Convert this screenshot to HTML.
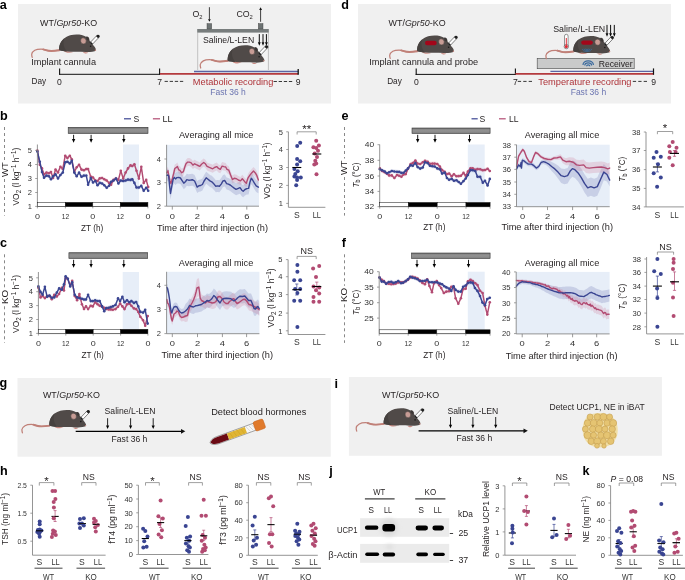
<!DOCTYPE html>
<html><head><meta charset="utf-8"><title>Figure</title>
<style>
html,body{margin:0;padding:0;background:#fff;}
body{width:685px;height:580px;overflow:hidden;}
svg{display:block;will-change:transform;}
text{font-family:"Liberation Sans", sans-serif;}
</style></head><body>
<svg width="685" height="580" viewBox="0 0 685 580">
<defs><g id="mouse">
<path d="M29.6,25.6 C25,26.3 21.5,26.5 19.2,26.2 C16,25.8 14,24.4 11.3,24.4 C8.5,24.4 6.5,24.8 5,25.7 C3,26.9 1.9,28.2 1.9,29.6 C1.9,31 2.1,32 2.4,32.8" fill="none" stroke="#c08078" stroke-width="1.25" stroke-linecap="round"/><path d="M29.6,25.6 C25,26.3 21.5,26.5 19.2,26.2 C16.5,25.9 15,25.2 13.5,24.7" fill="none" stroke="#c08078" stroke-width="1.9" stroke-linecap="round"/>
<path d="M34,26.2 C35.5,28.4 40,28.8 43.5,27.4 Z M53.2,27.4 C54.2,29.2 57.3,29.4 58.5,27.8 Z" fill="#c98a82"/>
<path d="M29.4,25.2 C29,21 31,16.5 34.5,13.6 C38,11 42.5,10 46.8,10 C50.5,10 53.5,10.6 56.2,12.2 C56.8,11.6 58.6,12 59.3,13.6 C59.8,14.8 59.6,15.6 59.6,15.6 C61.2,17.6 63.3,20.2 64.6,22 C65.6,23.4 66.3,24.5 66,25.6 C65.6,26.6 64.3,27 62.5,27.1 C60.5,27.4 58.5,27.6 56,27.4 C52,27.2 48,27 44,27.1 C40,27.1 36,26.8 32.5,26.4 C31,26.1 29.8,25.8 29.4,25.2 Z" fill="#504a48"/>
<path d="M29.4,25.2 C29,21 31,16.5 34.5,13.6 C33,18 33.5,22.5 37,26.8 C34,26.6 31,26.2 29.4,25.2 Z" fill="#46413f"/>
<path d="M56.4,12.6 C57.2,12 58.6,12.4 59.1,13.8 C59.4,14.8 59.2,15.8 58.6,16.2 L56.8,14.8 Z" fill="#3c3736"/>
<ellipse cx="53.6" cy="16.3" rx="2.8" ry="3.1" fill="#c79c95" stroke="#433e3d" stroke-width="0.45" transform="rotate(-12 53.6 16.3)"/>
<circle cx="60.8" cy="21.6" r="0.8" fill="#1a1a1a"/>
<circle cx="65.6" cy="25.6" r="0.7" fill="#c98a82"/>
<path d="M60.1,18.2 L67.5,10.4 L69.5,12.4 L62.1,20.2 Z" fill="#fdfdfd" stroke="#1e1e1e" stroke-width="0.55" stroke-linejoin="round"/>
<path d="M66.3,11.7 L67.5,10.4 C68.1,9.8 69.2,10.2 69.7,10.8 C70.1,11.4 70,12 69.5,12.4 L68.3,13.6 Z" fill="#1e1e1e"/>
<path d="M60.1,18.2 L61.1,17.1 L63.1,19.1 L62.1,20.2 Z" fill="#1e1e1e"/>
</g><linearGradient id="gbar" x1="0" y1="0" x2="0" y2="1"><stop offset="0" stop-color="#6c6c6c"/><stop offset="0.35" stop-color="#929292"/><stop offset="0.75" stop-color="#8c8c8c"/><stop offset="1" stop-color="#747474"/></linearGradient>
<filter id="soft" x="-20%" y="-50%" width="140%" height="200%"><feGaussianBlur stdDeviation="0.35"/></filter><filter id="soft2" x="-50%" y="-50%" width="200%" height="200%"><feGaussianBlur stdDeviation="2"/></filter></defs>
<rect width="685" height="580" fill="#fff"/>
<g fill="#231f20">
<rect x="18" y="4" width="313" height="99.5" fill="#f0f0f0"/>
<text x="40.1" y="26" font-size="8.9" fill="#231f20" textLength="57" lengthAdjust="spacingAndGlyphs">WT/<tspan font-style="italic">Gpr50</tspan>-KO</text>
<use href="#mouse" x="29.8" y="24.6"/>
<text x="31.2" y="65.4" font-size="9.1" textLength="64.8" lengthAdjust="spacingAndGlyphs">Implant cannula</text>
<line x1="59.1" y1="74.3" x2="160" y2="74.3" stroke="#111" stroke-width="1"/>
<line x1="59.6" y1="68.4" x2="59.6" y2="74.8" stroke="#111" stroke-width="1.1"/>
<line x1="159.6" y1="68.4" x2="159.6" y2="74.8" stroke="#111" stroke-width="1.1"/>
<text x="31.5" y="84.4" font-size="8.6" textLength="14.6" lengthAdjust="spacingAndGlyphs">Day</text>
<text x="57.1" y="84.6" font-size="8.6">0</text>
<text x="157.3" y="84.6" font-size="8.6">7</text>
<line x1="164.6" y1="81.4" x2="183.2" y2="81.4" stroke="#222" stroke-width="0.9" stroke-dasharray="3.3,1.8"/>
<line x1="160" y1="73.9" x2="298.2" y2="73.9" stroke="#b43a3e" stroke-width="1.7"/>
<line x1="194" y1="71.5" x2="298.2" y2="71.5" stroke="#5a64a2" stroke-width="1.3"/>
<line x1="298.2" y1="68.9" x2="298.2" y2="74.8" stroke="#111" stroke-width="1.3"/>
<text x="192.8" y="84.85" font-size="9.1" fill="#ae3339" textLength="80.6" lengthAdjust="spacingAndGlyphs">Metabolic recording</text>
<line x1="273.6" y1="81.5" x2="292.2" y2="81.5" stroke="#222" stroke-width="0.9" stroke-dasharray="3.3,1.8"/>
<text x="295.8" y="84.6" font-size="8.6">9</text>
<text x="210.3" y="94.7" font-size="8.6" fill="#6b74b0" textLength="35.5" lengthAdjust="spacingAndGlyphs">Fast 36 h</text>
<rect x="197.5" y="32.4" width="71" height="37.4" fill="#f3f3f3"/>
<line x1="197.7" y1="32.4" x2="197.7" y2="70" stroke="#a0a0a0" stroke-width="0.6"/>
<line x1="268.4" y1="32.4" x2="268.4" y2="70" stroke="#a0a0a0" stroke-width="0.6"/>
<rect x="197.2" y="29" width="71.6" height="3.6" fill="#787d7d"/>
<rect x="207" y="23.6" width="4.7" height="5.4" fill="#6d7373" stroke="#3a3a3a" stroke-width="0.4"/>
<rect x="258.3" y="23.6" width="4.7" height="5.4" fill="#6d7373" stroke="#3a3a3a" stroke-width="0.4"/>
<line x1="209.4" y1="7.2" x2="209.4" y2="19.5" stroke="#111" stroke-width="0.8"/>
<polygon points="208,19.2 210.8,19.2 209.4,21.8" fill="#111"/>
<line x1="260.6" y1="21.8" x2="260.6" y2="9.6" stroke="#111" stroke-width="0.8"/>
<polygon points="259.2,9.9 262,9.9 260.6,7.3" fill="#111"/>
<text x="192.4" y="17.2" font-size="8.8" fill="#231f20">O<tspan font-size="5.8" dy="1.8">2</tspan></text>
<text x="236.4" y="17.2" font-size="8.8" fill="#231f20">CO<tspan font-size="5.8" dy="1.8">2</tspan></text>
<text x="203" y="42.6" font-size="8.7" textLength="51.2" lengthAdjust="spacingAndGlyphs">Saline/L-LEN</text>
<line x1="259.3" y1="34.1" x2="259.3" y2="42.5" stroke="#000" stroke-width="0.95"/>
<polygon points="257.9,42.2 260.7,42.2 259.3,45.8" fill="#000"/>
<line x1="263" y1="34.1" x2="263" y2="42.5" stroke="#000" stroke-width="0.95"/>
<polygon points="261.6,42.2 264.4,42.2 263,45.8" fill="#000"/>
<line x1="266.4" y1="34.1" x2="266.4" y2="42.5" stroke="#000" stroke-width="0.95"/>
<polygon points="265,42.2 267.8,42.2 266.4,45.8" fill="#000"/>
<use href="#mouse" x="198.3" y="35.2"/>
<rect x="358" y="4" width="313" height="99.5" fill="#f0f0f0"/>
<text x="388.6" y="26" font-size="8.9" fill="#231f20" textLength="57" lengthAdjust="spacingAndGlyphs">WT/<tspan font-style="italic">Gpr50</tspan>-KO</text>
<use href="#mouse" x="387.8" y="25.6"/>
<rect x="425" y="40.8" width="11.7" height="4.5" fill="#a3061a" rx="2.2"/>
<text x="369.2" y="65.4" font-size="9.1" textLength="109" lengthAdjust="spacingAndGlyphs">Implant cannula and probe</text>
<line x1="415.7" y1="74.4" x2="515.4" y2="74.4" stroke="#111" stroke-width="1"/>
<line x1="416.2" y1="68.6" x2="416.2" y2="74.9" stroke="#111" stroke-width="1.1"/>
<line x1="515.4" y1="68.6" x2="515.4" y2="74.9" stroke="#111" stroke-width="1.1"/>
<text x="387.2" y="84.4" font-size="8.6" textLength="14.6" lengthAdjust="spacingAndGlyphs">Day</text>
<text x="414" y="84.6" font-size="8.6">0</text>
<text x="513" y="84.6" font-size="8.6">7</text>
<line x1="517.8" y1="81.4" x2="532" y2="81.4" stroke="#222" stroke-width="0.9" stroke-dasharray="3.3,2.15"/>
<rect x="537.2" y="58.3" width="97" height="10.4" fill="#c9caca" stroke="#4a4a4a" stroke-width="0.6"/>
<text x="598.7" y="66.5" font-size="8.8" textLength="34" lengthAdjust="spacingAndGlyphs">Receiver</text>
<path d="M586.6,66.24 A1.6,1.28 0 0 1 589.8,66.24" fill="none" stroke="#3a6a9e" stroke-width="1.2"/>
<path d="M584.8,65.61 A3.4,2.72 0 0 1 591.6,65.61" fill="none" stroke="#3a6a9e" stroke-width="1.2"/>
<path d="M583,64.98 A5.2,4.16 0 0 1 593.4,64.98" fill="none" stroke="#3a6a9e" stroke-width="1.2"/>
<use href="#mouse" x="544" y="25.9"/>
<rect x="581.2" y="40.4" width="11.6" height="4.4" fill="#a3061a" rx="2.2"/>
<path d="M585.5,48.65 A1.5,0.83 0 0 0 588.5,48.65" fill="none" stroke="#3a6c9c" stroke-width="0.8"/>
<path d="M584,48.8 A3,1.65 0 0 0 590,48.8" fill="none" stroke="#3a6c9c" stroke-width="0.8"/>
<path d="M582.5,48.95 A4.5,2.48 0 0 0 591.5,48.95" fill="none" stroke="#3a6c9c" stroke-width="0.8"/>
<rect x="564.5" y="34.3" width="3.6" height="13.5" fill="#fff" stroke="#333" stroke-width="0.5" rx="1.8"/>
<circle cx="566.3" cy="46.6" r="2.2" fill="#fff" stroke="#333" stroke-width="0.5"/>
<circle cx="566.3" cy="46.6" r="1.6" fill="#e0303a"/>
<rect x="565.8" y="38" width="1" height="8" fill="#e0303a"/>
<text x="553.2" y="32.3" font-size="8.7" textLength="52" lengthAdjust="spacingAndGlyphs">Saline/L-LEN</text>
<line x1="607" y1="24.9" x2="607" y2="33.5" stroke="#000" stroke-width="0.95"/>
<polygon points="605.6,33.2 608.4,33.2 607,36.7" fill="#000"/>
<line x1="610.6" y1="24.9" x2="610.6" y2="33.5" stroke="#000" stroke-width="0.95"/>
<polygon points="609.2,33.2 612,33.2 610.6,36.7" fill="#000"/>
<line x1="614.3" y1="24.9" x2="614.3" y2="33.5" stroke="#000" stroke-width="0.95"/>
<polygon points="612.9,33.2 615.7,33.2 614.3,36.7" fill="#000"/>
<line x1="515.4" y1="73.85" x2="653.5" y2="73.85" stroke="#b43a3e" stroke-width="1.7"/>
<line x1="550.4" y1="71.45" x2="653.5" y2="71.45" stroke="#5a64a2" stroke-width="1.3"/>
<line x1="653.5" y1="68.4" x2="653.5" y2="74.8" stroke="#111" stroke-width="1.2"/>
<text x="538.3" y="84.9" font-size="9.1" fill="#ae3339" textLength="93.2" lengthAdjust="spacingAndGlyphs">Temperature recording</text>
<line x1="632.8" y1="81.4" x2="647" y2="81.4" stroke="#222" stroke-width="0.9" stroke-dasharray="3.3,2.15"/>
<text x="651.2" y="84.6" font-size="8.6">9</text>
<text x="570.7" y="94.7" font-size="8.6" fill="#6b74b0" textLength="35.5" lengthAdjust="spacingAndGlyphs">Fast 36 h</text>
<rect x="123" y="144.5" width="16" height="57.9" fill="#e7eef8"/>
<rect x="68.2" y="127.3" width="79.8" height="6.2" fill="url(#gbar)" stroke="#3a3a3a" stroke-width="0.6"/>
<line x1="73.6" y1="134.8" x2="73.6" y2="139.3" stroke="#000" stroke-width="0.9"/>
<polygon points="71.9,139 75.3,139 73.6,142.8" fill="#000"/>
<line x1="91.1" y1="134.8" x2="91.1" y2="139.3" stroke="#000" stroke-width="0.9"/>
<polygon points="89.4,139 92.8,139 91.1,142.8" fill="#000"/>
<line x1="123.8" y1="134.8" x2="123.8" y2="139.3" stroke="#000" stroke-width="0.9"/>
<polygon points="122.1,139 125.5,139 123.8,142.8" fill="#000"/>
<polygon points="37.4,149.5 39.8,159.7 42,170 44,175.7 46.5,173.6 48.9,174.2 51,177.3 53.1,174.2 55.5,172.4 58,176.4 60.4,173 62.8,170.6 65.2,160.3 67.4,159.7 69.8,161.5 71.8,158.8 74.3,170.6 76.7,174.2 79.1,170.6 81.5,174.8 83.9,173.6 86.3,173.6 88.1,182.7 90.8,176 93,180.5 95.4,179 97.5,183.3 99.7,180.9 102.1,181.5 104.3,183.3 106.7,185.7 109.1,183.7 111.1,179.7 113.5,178.5 116,176.6 118.4,181.5 120.8,178.5 123.2,179 125.6,178.5 128,177.6 130.5,177.9 132.3,177.3 134.4,180.9 136.5,185.5 138.9,185.5 141.3,183.9 143.7,188.7 146.2,185.7 148.2,188.7 148.2,192.7 146.2,189.7 143.7,192.7 141.3,187.9 138.9,189.5 136.5,189.5 134.4,184.9 132.3,181.3 130.5,181.9 128,181.6 125.6,182.5 123.2,183 120.8,182.5 118.4,185.5 116,180.6 113.5,182.5 111.1,183.7 109.1,187.7 106.7,189.7 104.3,187.3 102.1,185.5 99.7,184.9 97.5,187.3 95.4,183 93,184.5 90.8,180 88.1,186.7 86.3,177.6 83.9,177.6 81.5,178.8 79.1,174.6 76.7,178.2 74.3,174.6 71.8,162.8 69.8,165.5 67.4,163.7 65.2,164.3 62.8,174.6 60.4,177 58,180.4 55.5,176.4 53.1,178.2 51,181.3 48.9,178.2 46.5,177.6 44,179.7 42,174 39.8,163.7 37.4,153.5" fill="#3a4592" fill-opacity="0.14"/>
<polygon points="37.4,148.6 39.8,162.8 42,166.4 44,172.4 46.5,170.6 48.9,171.2 51,170 53.1,176 55.5,167.6 58,170.4 60.4,164.8 62.8,167 65.2,153.7 67.4,156.1 69.8,153.7 71.8,157.3 74.3,170 76.7,165.2 79.1,162.8 81.5,167.6 83.9,168.2 86.3,167 88.1,167 90.8,174.8 93,175.5 95.4,178.5 97.5,179 99.7,176.4 102.1,176 104.3,177.3 106.7,178.5 109.1,180.9 111.1,182.7 113.5,177.9 116,176.6 118.4,177.9 120.8,168.8 123.2,176.6 125.6,170.6 128,166.4 130.5,163.4 132.3,164 134.4,162.2 136.5,168.8 138.9,176.6 141.3,164.8 143.7,180.9 146.2,177.9 148.2,185.1 148.2,189.1 146.2,181.9 143.7,184.9 141.3,168.8 138.9,180.6 136.5,172.8 134.4,166.2 132.3,168 130.5,167.4 128,170.4 125.6,174.6 123.2,180.6 120.8,172.8 118.4,181.9 116,180.6 113.5,181.9 111.1,186.7 109.1,184.9 106.7,182.5 104.3,181.3 102.1,180 99.7,180.4 97.5,183 95.4,182.5 93,179.5 90.8,178.8 88.1,171 86.3,171 83.9,172.2 81.5,171.6 79.1,166.8 76.7,169.2 74.3,174 71.8,161.3 69.8,157.7 67.4,160.1 65.2,157.7 62.8,171 60.4,168.8 58,174.4 55.5,171.6 53.1,180 51,174 48.9,175.2 46.5,174.6 44,176.4 42,170.4 39.8,166.8 37.4,152.6" fill="#b24b72" fill-opacity="0.14"/>
<polyline points="37.4,150.6 39.8,164.8 42,168.4 44,174.4 46.5,172.6 48.9,173.2 51,172 53.1,178 55.5,169.6 58,172.4 60.4,166.8 62.8,169 65.2,155.7 67.4,158.1 69.8,155.7 71.8,159.3 74.3,172 76.7,167.2 79.1,164.8 81.5,169.6 83.9,170.2 86.3,169 88.1,169 90.8,176.8 93,177.5 95.4,180.5 97.5,181 99.7,178.4 102.1,178 104.3,179.3 106.7,180.5 109.1,182.9 111.1,184.7 113.5,179.9 116,178.6 118.4,179.9 120.8,170.8 123.2,178.6 125.6,172.6 128,168.4 130.5,165.4 132.3,166 134.4,164.2 136.5,170.8 138.9,178.6 141.3,166.8 143.7,182.9 146.2,179.9 148.2,187.1" fill="none" stroke="#b24b72" stroke-width="1.45" stroke-linejoin="round" stroke-linecap="round"/>
<circle cx="37.4" cy="150.6" r="1.3" fill="#b24b72"/>
<circle cx="39.8" cy="164.8" r="1.3" fill="#b24b72"/>
<circle cx="42" cy="168.4" r="1.3" fill="#b24b72"/>
<circle cx="44" cy="174.4" r="1.3" fill="#b24b72"/>
<circle cx="46.5" cy="172.6" r="1.3" fill="#b24b72"/>
<circle cx="48.9" cy="173.2" r="1.3" fill="#b24b72"/>
<circle cx="51" cy="172" r="1.3" fill="#b24b72"/>
<circle cx="53.1" cy="178" r="1.3" fill="#b24b72"/>
<circle cx="55.5" cy="169.6" r="1.3" fill="#b24b72"/>
<circle cx="58" cy="172.4" r="1.3" fill="#b24b72"/>
<circle cx="60.4" cy="166.8" r="1.3" fill="#b24b72"/>
<circle cx="62.8" cy="169" r="1.3" fill="#b24b72"/>
<circle cx="65.2" cy="155.7" r="1.3" fill="#b24b72"/>
<circle cx="67.4" cy="158.1" r="1.3" fill="#b24b72"/>
<circle cx="69.8" cy="155.7" r="1.3" fill="#b24b72"/>
<circle cx="71.8" cy="159.3" r="1.3" fill="#b24b72"/>
<circle cx="74.3" cy="172" r="1.3" fill="#b24b72"/>
<circle cx="76.7" cy="167.2" r="1.3" fill="#b24b72"/>
<circle cx="79.1" cy="164.8" r="1.3" fill="#b24b72"/>
<circle cx="81.5" cy="169.6" r="1.3" fill="#b24b72"/>
<circle cx="83.9" cy="170.2" r="1.3" fill="#b24b72"/>
<circle cx="86.3" cy="169" r="1.3" fill="#b24b72"/>
<circle cx="88.1" cy="169" r="1.3" fill="#b24b72"/>
<circle cx="90.8" cy="176.8" r="1.3" fill="#b24b72"/>
<circle cx="93" cy="177.5" r="1.3" fill="#b24b72"/>
<circle cx="95.4" cy="180.5" r="1.3" fill="#b24b72"/>
<circle cx="97.5" cy="181" r="1.3" fill="#b24b72"/>
<circle cx="99.7" cy="178.4" r="1.3" fill="#b24b72"/>
<circle cx="102.1" cy="178" r="1.3" fill="#b24b72"/>
<circle cx="104.3" cy="179.3" r="1.3" fill="#b24b72"/>
<circle cx="106.7" cy="180.5" r="1.3" fill="#b24b72"/>
<circle cx="109.1" cy="182.9" r="1.3" fill="#b24b72"/>
<circle cx="111.1" cy="184.7" r="1.3" fill="#b24b72"/>
<circle cx="113.5" cy="179.9" r="1.3" fill="#b24b72"/>
<circle cx="116" cy="178.6" r="1.3" fill="#b24b72"/>
<circle cx="118.4" cy="179.9" r="1.3" fill="#b24b72"/>
<circle cx="120.8" cy="170.8" r="1.3" fill="#b24b72"/>
<circle cx="123.2" cy="178.6" r="1.3" fill="#b24b72"/>
<circle cx="125.6" cy="172.6" r="1.3" fill="#b24b72"/>
<circle cx="128" cy="168.4" r="1.3" fill="#b24b72"/>
<circle cx="130.5" cy="165.4" r="1.3" fill="#b24b72"/>
<circle cx="132.3" cy="166" r="1.3" fill="#b24b72"/>
<circle cx="134.4" cy="164.2" r="1.3" fill="#b24b72"/>
<circle cx="136.5" cy="170.8" r="1.3" fill="#b24b72"/>
<circle cx="138.9" cy="178.6" r="1.3" fill="#b24b72"/>
<circle cx="141.3" cy="166.8" r="1.3" fill="#b24b72"/>
<circle cx="143.7" cy="182.9" r="1.3" fill="#b24b72"/>
<circle cx="146.2" cy="179.9" r="1.3" fill="#b24b72"/>
<circle cx="148.2" cy="187.1" r="1.3" fill="#b24b72"/>
<polyline points="37.4,151.5 39.8,161.7 42,172 44,177.7 46.5,175.6 48.9,176.2 51,179.3 53.1,176.2 55.5,174.4 58,178.4 60.4,175 62.8,172.6 65.2,162.3 67.4,161.7 69.8,163.5 71.8,160.8 74.3,172.6 76.7,176.2 79.1,172.6 81.5,176.8 83.9,175.6 86.3,175.6 88.1,184.7 90.8,178 93,182.5 95.4,181 97.5,185.3 99.7,182.9 102.1,183.5 104.3,185.3 106.7,187.7 109.1,185.7 111.1,181.7 113.5,180.5 116,178.6 118.4,183.5 120.8,180.5 123.2,181 125.6,180.5 128,179.6 130.5,179.9 132.3,179.3 134.4,182.9 136.5,187.5 138.9,187.5 141.3,185.9 143.7,190.7 146.2,187.7 148.2,190.7" fill="none" stroke="#3a4592" stroke-width="1.45" stroke-linejoin="round" stroke-linecap="round"/>
<circle cx="37.4" cy="151.5" r="1.3" fill="#3a4592"/>
<circle cx="39.8" cy="161.7" r="1.3" fill="#3a4592"/>
<circle cx="42" cy="172" r="1.3" fill="#3a4592"/>
<circle cx="44" cy="177.7" r="1.3" fill="#3a4592"/>
<circle cx="46.5" cy="175.6" r="1.3" fill="#3a4592"/>
<circle cx="48.9" cy="176.2" r="1.3" fill="#3a4592"/>
<circle cx="51" cy="179.3" r="1.3" fill="#3a4592"/>
<circle cx="53.1" cy="176.2" r="1.3" fill="#3a4592"/>
<circle cx="55.5" cy="174.4" r="1.3" fill="#3a4592"/>
<circle cx="58" cy="178.4" r="1.3" fill="#3a4592"/>
<circle cx="60.4" cy="175" r="1.3" fill="#3a4592"/>
<circle cx="62.8" cy="172.6" r="1.3" fill="#3a4592"/>
<circle cx="65.2" cy="162.3" r="1.3" fill="#3a4592"/>
<circle cx="67.4" cy="161.7" r="1.3" fill="#3a4592"/>
<circle cx="69.8" cy="163.5" r="1.3" fill="#3a4592"/>
<circle cx="71.8" cy="160.8" r="1.3" fill="#3a4592"/>
<circle cx="74.3" cy="172.6" r="1.3" fill="#3a4592"/>
<circle cx="76.7" cy="176.2" r="1.3" fill="#3a4592"/>
<circle cx="79.1" cy="172.6" r="1.3" fill="#3a4592"/>
<circle cx="81.5" cy="176.8" r="1.3" fill="#3a4592"/>
<circle cx="83.9" cy="175.6" r="1.3" fill="#3a4592"/>
<circle cx="86.3" cy="175.6" r="1.3" fill="#3a4592"/>
<circle cx="88.1" cy="184.7" r="1.3" fill="#3a4592"/>
<circle cx="90.8" cy="178" r="1.3" fill="#3a4592"/>
<circle cx="93" cy="182.5" r="1.3" fill="#3a4592"/>
<circle cx="95.4" cy="181" r="1.3" fill="#3a4592"/>
<circle cx="97.5" cy="185.3" r="1.3" fill="#3a4592"/>
<circle cx="99.7" cy="182.9" r="1.3" fill="#3a4592"/>
<circle cx="102.1" cy="183.5" r="1.3" fill="#3a4592"/>
<circle cx="104.3" cy="185.3" r="1.3" fill="#3a4592"/>
<circle cx="106.7" cy="187.7" r="1.3" fill="#3a4592"/>
<circle cx="109.1" cy="185.7" r="1.3" fill="#3a4592"/>
<circle cx="111.1" cy="181.7" r="1.3" fill="#3a4592"/>
<circle cx="113.5" cy="180.5" r="1.3" fill="#3a4592"/>
<circle cx="116" cy="178.6" r="1.3" fill="#3a4592"/>
<circle cx="118.4" cy="183.5" r="1.3" fill="#3a4592"/>
<circle cx="120.8" cy="180.5" r="1.3" fill="#3a4592"/>
<circle cx="123.2" cy="181" r="1.3" fill="#3a4592"/>
<circle cx="125.6" cy="180.5" r="1.3" fill="#3a4592"/>
<circle cx="128" cy="179.6" r="1.3" fill="#3a4592"/>
<circle cx="130.5" cy="179.9" r="1.3" fill="#3a4592"/>
<circle cx="132.3" cy="179.3" r="1.3" fill="#3a4592"/>
<circle cx="134.4" cy="182.9" r="1.3" fill="#3a4592"/>
<circle cx="136.5" cy="187.5" r="1.3" fill="#3a4592"/>
<circle cx="138.9" cy="187.5" r="1.3" fill="#3a4592"/>
<circle cx="141.3" cy="185.9" r="1.3" fill="#3a4592"/>
<circle cx="143.7" cy="190.7" r="1.3" fill="#3a4592"/>
<circle cx="146.2" cy="187.7" r="1.3" fill="#3a4592"/>
<circle cx="148.2" cy="190.7" r="1.3" fill="#3a4592"/>
<line x1="37.4" y1="144.5" x2="37.4" y2="206.4" stroke="#7a7a7a" stroke-width="0.8"/>
<line x1="37.4" y1="206.4" x2="147.9" y2="206.4" stroke="#7a7a7a" stroke-width="0.8"/>
<line x1="37.4" y1="206.4" x2="37.4" y2="208.4" stroke="#7a7a7a" stroke-width="0.7"/>
<line x1="65.4" y1="206.4" x2="65.4" y2="208.4" stroke="#7a7a7a" stroke-width="0.7"/>
<line x1="92.8" y1="206.4" x2="92.8" y2="208.4" stroke="#7a7a7a" stroke-width="0.7"/>
<line x1="120.3" y1="206.4" x2="120.3" y2="208.4" stroke="#7a7a7a" stroke-width="0.7"/>
<line x1="147.9" y1="206.4" x2="147.9" y2="208.4" stroke="#7a7a7a" stroke-width="0.7"/>
<rect x="37.4" y="202.4" width="28" height="4" fill="#fff" stroke="#111" stroke-width="0.5"/>
<rect x="65.4" y="202.4" width="27.4" height="4" fill="#000" stroke="#111" stroke-width="0.5"/>
<rect x="92.8" y="202.4" width="27.5" height="4" fill="#fff" stroke="#111" stroke-width="0.5"/>
<rect x="120.3" y="202.4" width="27.6" height="4" fill="#000" stroke="#111" stroke-width="0.5"/>
<line x1="35.2" y1="150.4" x2="37.4" y2="150.4" stroke="#7a7a7a" stroke-width="0.7"/>
<text x="31.8" y="153.1" font-size="7.5" text-anchor="end" fill="#333">5</text>
<line x1="35.2" y1="164.5" x2="37.4" y2="164.5" stroke="#7a7a7a" stroke-width="0.7"/>
<text x="31.8" y="167.2" font-size="7.5" text-anchor="end" fill="#333">4</text>
<line x1="35.2" y1="178.5" x2="37.4" y2="178.5" stroke="#7a7a7a" stroke-width="0.7"/>
<text x="31.8" y="181.2" font-size="7.5" text-anchor="end" fill="#333">3</text>
<line x1="35.2" y1="192.5" x2="37.4" y2="192.5" stroke="#7a7a7a" stroke-width="0.7"/>
<text x="31.8" y="195.2" font-size="7.5" text-anchor="end" fill="#333">2</text>
<line x1="35.2" y1="206.4" x2="37.4" y2="206.4" stroke="#7a7a7a" stroke-width="0.7"/>
<text x="31.8" y="209.1" font-size="7.5" text-anchor="end" fill="#333">1</text>
<text x="37.4" y="218.5" font-size="7.7" text-anchor="middle" fill="#333" textLength="5" lengthAdjust="spacingAndGlyphs">0</text>
<text x="65.4" y="218.5" font-size="7.7" text-anchor="middle" fill="#333" textLength="7.4" lengthAdjust="spacingAndGlyphs">12</text>
<text x="92.8" y="218.5" font-size="7.7" text-anchor="middle" fill="#333" textLength="5" lengthAdjust="spacingAndGlyphs">0</text>
<text x="120.3" y="218.5" font-size="7.7" text-anchor="middle" fill="#333" textLength="7.4" lengthAdjust="spacingAndGlyphs">12</text>
<text x="147.9" y="218.5" font-size="7.7" text-anchor="middle" fill="#333" textLength="5" lengthAdjust="spacingAndGlyphs">0</text>
<text x="92.1" y="230.9" font-size="8.6" text-anchor="middle" textLength="22.2" lengthAdjust="spacingAndGlyphs">ZT (h)</text>
<text x="0" y="0" font-size="9" text-anchor="middle" transform="translate(19.2,176.6) rotate(-90)" textLength="58" lengthAdjust="spacingAndGlyphs">VO<tspan font-size="6.6" dy="1.6">2</tspan><tspan dy="-1.6"> (l kg</tspan><tspan font-size="6.6" dy="-3.2">−1</tspan><tspan dy="3.2"> h</tspan><tspan font-size="6.6" dy="-3.2">−1</tspan><tspan dy="3.2">)</tspan></text>
<text x="0" y="0" font-size="9" text-anchor="middle" transform="translate(7.9,169.6) rotate(-90)" textLength="14.6" lengthAdjust="spacingAndGlyphs">WT</text>
<line x1="4.5" y1="127" x2="4.5" y2="160.5" stroke="#555" stroke-width="0.7" stroke-dasharray="3,3"/>
<line x1="4.5" y1="179" x2="4.5" y2="215.6" stroke="#555" stroke-width="0.7" stroke-dasharray="3,3"/>
<line x1="124" y1="118.8" x2="131" y2="118.8" stroke="#3a4592" stroke-width="1.2"/>
<text x="133.6" y="121.6" font-size="8.6">S</text>
<line x1="152.9" y1="118.8" x2="160" y2="118.8" stroke="#b24b72" stroke-width="1.2"/>
<text x="162.6" y="121.6" font-size="8.6" textLength="10" lengthAdjust="spacingAndGlyphs">LL</text>
<rect x="122.7" y="272" width="16.3" height="57.3" fill="#e7eef8"/>
<rect x="68.9" y="252.7" width="78.8" height="5.8" fill="url(#gbar)" stroke="#3a3a3a" stroke-width="0.6"/>
<line x1="73.6" y1="259.8" x2="73.6" y2="264.3" stroke="#000" stroke-width="0.9"/>
<polygon points="71.9,264 75.3,264 73.6,267.8" fill="#000"/>
<line x1="91.1" y1="259.8" x2="91.1" y2="264.3" stroke="#000" stroke-width="0.9"/>
<polygon points="89.4,264 92.8,264 91.1,267.8" fill="#000"/>
<line x1="123.8" y1="259.8" x2="123.8" y2="264.3" stroke="#000" stroke-width="0.9"/>
<polygon points="122.1,264 125.5,264 123.8,267.8" fill="#000"/>
<polygon points="38.4,284.4 40.5,289.9 42.6,292.7 44.9,284.8 47.1,294.7 49.5,293.6 51.8,295.8 54.3,295.4 56.8,290.6 59.1,286.4 61.9,287.8 64,282.3 65.6,274.3 67.8,276.8 70.2,284.4 72.2,280.2 74.7,292.7 77.1,295.4 79.4,296.1 81.9,296.8 84,297.5 86,297.5 88.1,292.7 90.7,299.1 92.8,299.1 95.2,298.2 97.6,299.1 99.7,299.1 102.1,304.4 104.2,309.2 106.3,306 108.6,305.8 110.7,305.1 112.8,304.4 115.5,303 118,296.4 120.1,299.1 122.4,294.7 124.5,300.2 127,298.2 129.3,300.2 131.4,299.1 133.9,300.9 136.2,300 138.3,304.4 140.3,309.9 143.1,310.6 145.2,307.8 147.7,321.6 147.7,325.6 145.2,311.8 143.1,314.6 140.3,313.9 138.3,308.4 136.2,304 133.9,304.9 131.4,303.1 129.3,304.2 127,302.2 124.5,304.2 122.4,298.7 120.1,303.1 118,300.4 115.5,307 112.8,308.4 110.7,309.1 108.6,309.8 106.3,310 104.2,313.2 102.1,308.4 99.7,303.1 97.6,303.1 95.2,302.2 92.8,303.1 90.7,303.1 88.1,296.7 86,301.5 84,301.5 81.9,300.8 79.4,300.1 77.1,299.4 74.7,296.7 72.2,284.2 70.2,288.4 67.8,280.8 65.6,278.3 64,286.3 61.9,291.8 59.1,290.4 56.8,294.6 54.3,299.4 51.8,299.8 49.5,297.6 47.1,298.7 44.9,288.8 42.6,296.7 40.5,293.9 38.4,288.4" fill="#3a4592" fill-opacity="0.14"/>
<polygon points="38.4,285.8 40.5,295.4 42.6,294 44.9,296.1 47.1,294 49.5,294 51.8,297.2 54.3,292.7 56.8,294.4 59.1,292 61.9,285.8 64,288.5 65.6,276.1 67.8,276.8 70.2,283.7 72.2,278.9 74.7,294 77.1,298.2 79.4,292 81.9,302.3 84,306.9 86,304.4 88.1,307.1 90.7,303.7 92.8,304.4 95.2,300.2 97.6,302.3 99.7,303.7 102.1,304.7 104.2,305.8 106.3,306.9 108.6,307.4 110.7,307.4 112.8,307.8 115.5,307.1 118,304.7 120.1,301.6 122.4,304.4 124.5,307.1 127,302.3 129.3,301.6 131.4,303.7 133.9,306.4 136.2,307.1 138.3,309.9 140.3,314.7 143.1,318.2 145.2,323.7 147.7,314 147.7,318 145.2,327.7 143.1,322.2 140.3,318.7 138.3,313.9 136.2,311.1 133.9,310.4 131.4,307.7 129.3,305.6 127,306.3 124.5,311.1 122.4,308.4 120.1,305.6 118,308.7 115.5,311.1 112.8,311.8 110.7,311.4 108.6,311.4 106.3,310.9 104.2,309.8 102.1,308.7 99.7,307.7 97.6,306.3 95.2,304.2 92.8,308.4 90.7,307.7 88.1,311.1 86,308.4 84,310.9 81.9,306.3 79.4,296 77.1,302.2 74.7,298 72.2,282.9 70.2,287.7 67.8,280.8 65.6,280.1 64,292.5 61.9,289.8 59.1,296 56.8,298.4 54.3,296.7 51.8,301.2 49.5,298 47.1,298 44.9,300.1 42.6,298 40.5,299.4 38.4,289.8" fill="#b24b72" fill-opacity="0.14"/>
<polyline points="38.4,287.8 40.5,297.4 42.6,296 44.9,298.1 47.1,296 49.5,296 51.8,299.2 54.3,294.7 56.8,296.4 59.1,294 61.9,287.8 64,290.5 65.6,278.1 67.8,278.8 70.2,285.7 72.2,280.9 74.7,296 77.1,300.2 79.4,294 81.9,304.3 84,308.9 86,306.4 88.1,309.1 90.7,305.7 92.8,306.4 95.2,302.2 97.6,304.3 99.7,305.7 102.1,306.7 104.2,307.8 106.3,308.9 108.6,309.4 110.7,309.4 112.8,309.8 115.5,309.1 118,306.7 120.1,303.6 122.4,306.4 124.5,309.1 127,304.3 129.3,303.6 131.4,305.7 133.9,308.4 136.2,309.1 138.3,311.9 140.3,316.7 143.1,320.2 145.2,325.7 147.7,316" fill="none" stroke="#b24b72" stroke-width="1.45" stroke-linejoin="round" stroke-linecap="round"/>
<circle cx="38.4" cy="287.8" r="1.3" fill="#b24b72"/>
<circle cx="40.5" cy="297.4" r="1.3" fill="#b24b72"/>
<circle cx="42.6" cy="296" r="1.3" fill="#b24b72"/>
<circle cx="44.9" cy="298.1" r="1.3" fill="#b24b72"/>
<circle cx="47.1" cy="296" r="1.3" fill="#b24b72"/>
<circle cx="49.5" cy="296" r="1.3" fill="#b24b72"/>
<circle cx="51.8" cy="299.2" r="1.3" fill="#b24b72"/>
<circle cx="54.3" cy="294.7" r="1.3" fill="#b24b72"/>
<circle cx="56.8" cy="296.4" r="1.3" fill="#b24b72"/>
<circle cx="59.1" cy="294" r="1.3" fill="#b24b72"/>
<circle cx="61.9" cy="287.8" r="1.3" fill="#b24b72"/>
<circle cx="64" cy="290.5" r="1.3" fill="#b24b72"/>
<circle cx="65.6" cy="278.1" r="1.3" fill="#b24b72"/>
<circle cx="67.8" cy="278.8" r="1.3" fill="#b24b72"/>
<circle cx="70.2" cy="285.7" r="1.3" fill="#b24b72"/>
<circle cx="72.2" cy="280.9" r="1.3" fill="#b24b72"/>
<circle cx="74.7" cy="296" r="1.3" fill="#b24b72"/>
<circle cx="77.1" cy="300.2" r="1.3" fill="#b24b72"/>
<circle cx="79.4" cy="294" r="1.3" fill="#b24b72"/>
<circle cx="81.9" cy="304.3" r="1.3" fill="#b24b72"/>
<circle cx="84" cy="308.9" r="1.3" fill="#b24b72"/>
<circle cx="86" cy="306.4" r="1.3" fill="#b24b72"/>
<circle cx="88.1" cy="309.1" r="1.3" fill="#b24b72"/>
<circle cx="90.7" cy="305.7" r="1.3" fill="#b24b72"/>
<circle cx="92.8" cy="306.4" r="1.3" fill="#b24b72"/>
<circle cx="95.2" cy="302.2" r="1.3" fill="#b24b72"/>
<circle cx="97.6" cy="304.3" r="1.3" fill="#b24b72"/>
<circle cx="99.7" cy="305.7" r="1.3" fill="#b24b72"/>
<circle cx="102.1" cy="306.7" r="1.3" fill="#b24b72"/>
<circle cx="104.2" cy="307.8" r="1.3" fill="#b24b72"/>
<circle cx="106.3" cy="308.9" r="1.3" fill="#b24b72"/>
<circle cx="108.6" cy="309.4" r="1.3" fill="#b24b72"/>
<circle cx="110.7" cy="309.4" r="1.3" fill="#b24b72"/>
<circle cx="112.8" cy="309.8" r="1.3" fill="#b24b72"/>
<circle cx="115.5" cy="309.1" r="1.3" fill="#b24b72"/>
<circle cx="118" cy="306.7" r="1.3" fill="#b24b72"/>
<circle cx="120.1" cy="303.6" r="1.3" fill="#b24b72"/>
<circle cx="122.4" cy="306.4" r="1.3" fill="#b24b72"/>
<circle cx="124.5" cy="309.1" r="1.3" fill="#b24b72"/>
<circle cx="127" cy="304.3" r="1.3" fill="#b24b72"/>
<circle cx="129.3" cy="303.6" r="1.3" fill="#b24b72"/>
<circle cx="131.4" cy="305.7" r="1.3" fill="#b24b72"/>
<circle cx="133.9" cy="308.4" r="1.3" fill="#b24b72"/>
<circle cx="136.2" cy="309.1" r="1.3" fill="#b24b72"/>
<circle cx="138.3" cy="311.9" r="1.3" fill="#b24b72"/>
<circle cx="140.3" cy="316.7" r="1.3" fill="#b24b72"/>
<circle cx="143.1" cy="320.2" r="1.3" fill="#b24b72"/>
<circle cx="145.2" cy="325.7" r="1.3" fill="#b24b72"/>
<circle cx="147.7" cy="316" r="1.3" fill="#b24b72"/>
<polyline points="38.4,286.4 40.5,291.9 42.6,294.7 44.9,286.8 47.1,296.7 49.5,295.6 51.8,297.8 54.3,297.4 56.8,292.6 59.1,288.4 61.9,289.8 64,284.3 65.6,276.3 67.8,278.8 70.2,286.4 72.2,282.2 74.7,294.7 77.1,297.4 79.4,298.1 81.9,298.8 84,299.5 86,299.5 88.1,294.7 90.7,301.1 92.8,301.1 95.2,300.2 97.6,301.1 99.7,301.1 102.1,306.4 104.2,311.2 106.3,308 108.6,307.8 110.7,307.1 112.8,306.4 115.5,305 118,298.4 120.1,301.1 122.4,296.7 124.5,302.2 127,300.2 129.3,302.2 131.4,301.1 133.9,302.9 136.2,302 138.3,306.4 140.3,311.9 143.1,312.6 145.2,309.8 147.7,323.6" fill="none" stroke="#3a4592" stroke-width="1.45" stroke-linejoin="round" stroke-linecap="round"/>
<circle cx="38.4" cy="286.4" r="1.3" fill="#3a4592"/>
<circle cx="40.5" cy="291.9" r="1.3" fill="#3a4592"/>
<circle cx="42.6" cy="294.7" r="1.3" fill="#3a4592"/>
<circle cx="44.9" cy="286.8" r="1.3" fill="#3a4592"/>
<circle cx="47.1" cy="296.7" r="1.3" fill="#3a4592"/>
<circle cx="49.5" cy="295.6" r="1.3" fill="#3a4592"/>
<circle cx="51.8" cy="297.8" r="1.3" fill="#3a4592"/>
<circle cx="54.3" cy="297.4" r="1.3" fill="#3a4592"/>
<circle cx="56.8" cy="292.6" r="1.3" fill="#3a4592"/>
<circle cx="59.1" cy="288.4" r="1.3" fill="#3a4592"/>
<circle cx="61.9" cy="289.8" r="1.3" fill="#3a4592"/>
<circle cx="64" cy="284.3" r="1.3" fill="#3a4592"/>
<circle cx="65.6" cy="276.3" r="1.3" fill="#3a4592"/>
<circle cx="67.8" cy="278.8" r="1.3" fill="#3a4592"/>
<circle cx="70.2" cy="286.4" r="1.3" fill="#3a4592"/>
<circle cx="72.2" cy="282.2" r="1.3" fill="#3a4592"/>
<circle cx="74.7" cy="294.7" r="1.3" fill="#3a4592"/>
<circle cx="77.1" cy="297.4" r="1.3" fill="#3a4592"/>
<circle cx="79.4" cy="298.1" r="1.3" fill="#3a4592"/>
<circle cx="81.9" cy="298.8" r="1.3" fill="#3a4592"/>
<circle cx="84" cy="299.5" r="1.3" fill="#3a4592"/>
<circle cx="86" cy="299.5" r="1.3" fill="#3a4592"/>
<circle cx="88.1" cy="294.7" r="1.3" fill="#3a4592"/>
<circle cx="90.7" cy="301.1" r="1.3" fill="#3a4592"/>
<circle cx="92.8" cy="301.1" r="1.3" fill="#3a4592"/>
<circle cx="95.2" cy="300.2" r="1.3" fill="#3a4592"/>
<circle cx="97.6" cy="301.1" r="1.3" fill="#3a4592"/>
<circle cx="99.7" cy="301.1" r="1.3" fill="#3a4592"/>
<circle cx="102.1" cy="306.4" r="1.3" fill="#3a4592"/>
<circle cx="104.2" cy="311.2" r="1.3" fill="#3a4592"/>
<circle cx="106.3" cy="308" r="1.3" fill="#3a4592"/>
<circle cx="108.6" cy="307.8" r="1.3" fill="#3a4592"/>
<circle cx="110.7" cy="307.1" r="1.3" fill="#3a4592"/>
<circle cx="112.8" cy="306.4" r="1.3" fill="#3a4592"/>
<circle cx="115.5" cy="305" r="1.3" fill="#3a4592"/>
<circle cx="118" cy="298.4" r="1.3" fill="#3a4592"/>
<circle cx="120.1" cy="301.1" r="1.3" fill="#3a4592"/>
<circle cx="122.4" cy="296.7" r="1.3" fill="#3a4592"/>
<circle cx="124.5" cy="302.2" r="1.3" fill="#3a4592"/>
<circle cx="127" cy="300.2" r="1.3" fill="#3a4592"/>
<circle cx="129.3" cy="302.2" r="1.3" fill="#3a4592"/>
<circle cx="131.4" cy="301.1" r="1.3" fill="#3a4592"/>
<circle cx="133.9" cy="302.9" r="1.3" fill="#3a4592"/>
<circle cx="136.2" cy="302" r="1.3" fill="#3a4592"/>
<circle cx="138.3" cy="306.4" r="1.3" fill="#3a4592"/>
<circle cx="140.3" cy="311.9" r="1.3" fill="#3a4592"/>
<circle cx="143.1" cy="312.6" r="1.3" fill="#3a4592"/>
<circle cx="145.2" cy="309.8" r="1.3" fill="#3a4592"/>
<circle cx="147.7" cy="323.6" r="1.3" fill="#3a4592"/>
<line x1="38.4" y1="272" x2="38.4" y2="333.6" stroke="#7a7a7a" stroke-width="0.8"/>
<line x1="38.4" y1="333.6" x2="147.9" y2="333.6" stroke="#7a7a7a" stroke-width="0.8"/>
<line x1="38.4" y1="333.6" x2="38.4" y2="335.6" stroke="#7a7a7a" stroke-width="0.7"/>
<line x1="65.8" y1="333.6" x2="65.8" y2="335.6" stroke="#7a7a7a" stroke-width="0.7"/>
<line x1="93.2" y1="333.6" x2="93.2" y2="335.6" stroke="#7a7a7a" stroke-width="0.7"/>
<line x1="120.6" y1="333.6" x2="120.6" y2="335.6" stroke="#7a7a7a" stroke-width="0.7"/>
<line x1="147.9" y1="333.6" x2="147.9" y2="335.6" stroke="#7a7a7a" stroke-width="0.7"/>
<rect x="38.4" y="329.3" width="27.4" height="4.3" fill="#fff" stroke="#111" stroke-width="0.5"/>
<rect x="65.8" y="329.3" width="27.4" height="4.3" fill="#000" stroke="#111" stroke-width="0.5"/>
<rect x="93.2" y="329.3" width="27.4" height="4.3" fill="#fff" stroke="#111" stroke-width="0.5"/>
<rect x="120.6" y="329.3" width="27.3" height="4.3" fill="#000" stroke="#111" stroke-width="0.5"/>
<line x1="36.2" y1="277.8" x2="38.4" y2="277.8" stroke="#7a7a7a" stroke-width="0.7"/>
<text x="32.8" y="280.5" font-size="7.5" text-anchor="end" fill="#333">5</text>
<line x1="36.2" y1="291.7" x2="38.4" y2="291.7" stroke="#7a7a7a" stroke-width="0.7"/>
<text x="32.8" y="294.4" font-size="7.5" text-anchor="end" fill="#333">4</text>
<line x1="36.2" y1="305.6" x2="38.4" y2="305.6" stroke="#7a7a7a" stroke-width="0.7"/>
<text x="32.8" y="308.3" font-size="7.5" text-anchor="end" fill="#333">3</text>
<line x1="36.2" y1="319.5" x2="38.4" y2="319.5" stroke="#7a7a7a" stroke-width="0.7"/>
<text x="32.8" y="322.2" font-size="7.5" text-anchor="end" fill="#333">2</text>
<line x1="36.2" y1="333.4" x2="38.4" y2="333.4" stroke="#7a7a7a" stroke-width="0.7"/>
<text x="32.8" y="336.1" font-size="7.5" text-anchor="end" fill="#333">1</text>
<text x="38.4" y="345.7" font-size="7.7" text-anchor="middle" fill="#333" textLength="5" lengthAdjust="spacingAndGlyphs">0</text>
<text x="65.8" y="345.7" font-size="7.7" text-anchor="middle" fill="#333" textLength="7.4" lengthAdjust="spacingAndGlyphs">12</text>
<text x="93.2" y="345.7" font-size="7.7" text-anchor="middle" fill="#333" textLength="5" lengthAdjust="spacingAndGlyphs">0</text>
<text x="120.6" y="345.7" font-size="7.7" text-anchor="middle" fill="#333" textLength="7.4" lengthAdjust="spacingAndGlyphs">12</text>
<text x="147.9" y="345.7" font-size="7.7" text-anchor="middle" fill="#333" textLength="5" lengthAdjust="spacingAndGlyphs">0</text>
<text x="92.6" y="358.2" font-size="8.6" text-anchor="middle" textLength="22.2" lengthAdjust="spacingAndGlyphs">ZT (h)</text>
<text x="0" y="0" font-size="9" text-anchor="middle" transform="translate(19.2,303.9) rotate(-90)" textLength="58" lengthAdjust="spacingAndGlyphs">VO<tspan font-size="6.6" dy="1.6">2</tspan><tspan dy="-1.6"> (l kg</tspan><tspan font-size="6.6" dy="-3.2">−1</tspan><tspan dy="3.2"> h</tspan><tspan font-size="6.6" dy="-3.2">−1</tspan><tspan dy="3.2">)</tspan></text>
<text x="0" y="0" font-size="9" text-anchor="middle" transform="translate(7.9,296.9) rotate(-90)" textLength="14.2" lengthAdjust="spacingAndGlyphs">KO</text>
<line x1="4.5" y1="254.3" x2="4.5" y2="287.8" stroke="#555" stroke-width="0.7" stroke-dasharray="3,3"/>
<line x1="4.5" y1="306.3" x2="4.5" y2="342.9" stroke="#555" stroke-width="0.7" stroke-dasharray="3,3"/>
<rect x="467.8" y="144.5" width="16.9" height="58" fill="#e7eef8"/>
<rect x="412" y="128" width="78.1" height="5.5" fill="url(#gbar)" stroke="#3a3a3a" stroke-width="0.6"/>
<line x1="417.7" y1="134.8" x2="417.7" y2="139.3" stroke="#000" stroke-width="0.9"/>
<polygon points="416,139 419.4,139 417.7,142.8" fill="#000"/>
<line x1="435" y1="134.8" x2="435" y2="139.3" stroke="#000" stroke-width="0.9"/>
<polygon points="433.3,139 436.7,139 435,142.8" fill="#000"/>
<line x1="469.5" y1="134.8" x2="469.5" y2="139.3" stroke="#000" stroke-width="0.9"/>
<polygon points="467.8,139 471.2,139 469.5,142.8" fill="#000"/>
<polygon points="379.9,167.3 382.1,168.3 384.8,169.5 386.9,171.2 389.1,170.3 391.8,169 394.4,169.5 397,169.7 399.2,169.9 401.4,170.9 403.6,170.8 405.8,168.6 408,166.4 410.6,163.3 412.8,163.8 415.4,161.1 417.6,165.1 420.2,166.6 422.8,165.5 425,160.3 427.7,161.1 429.9,163.8 432.4,164.2 434.6,164.5 437.3,166.4 439.9,167.3 442.1,171.6 444.7,170.6 446.9,176 449.1,177.8 451.7,176.9 453.9,178.8 456.5,178.2 458.7,180 460.9,181.7 463.5,179.1 465.7,176.5 467.9,173 470.5,168.1 472.7,168.3 475.3,169 477.5,174.7 480.2,174.7 482.8,180.8 485,178.8 487.6,183.5 489.8,176.9 489.8,180.9 487.6,187.5 485,182.8 482.8,184.8 480.2,178.7 477.5,178.7 475.3,173 472.7,172.3 470.5,172.1 467.9,177 465.7,180.5 463.5,183.1 460.9,185.7 458.7,184 456.5,182.2 453.9,182.8 451.7,180.9 449.1,181.8 446.9,180 444.7,174.6 442.1,175.6 439.9,171.3 437.3,170.4 434.6,168.5 432.4,168.2 429.9,167.8 427.7,165.1 425,164.3 422.8,169.5 420.2,170.6 417.6,169.1 415.4,165.1 412.8,167.8 410.6,167.3 408,170.4 405.8,172.6 403.6,174.8 401.4,174.9 399.2,173.9 397,173.7 394.4,173.5 391.8,173 389.1,174.3 386.9,175.2 384.8,173.5 382.1,172.3 379.9,171.3" fill="#3a4592" fill-opacity="0.14"/>
<polygon points="379.9,166.4 382.1,169 384.8,170.3 386.9,171.6 389.1,173.4 391.8,173.4 394.4,176 397,173 399.2,173.8 401.4,174.7 403.6,172.5 405.8,172.1 408,166.8 410.6,162 412.8,161.1 415.4,158.5 417.6,161.6 420.2,162 422.8,160.3 425,158.9 427.7,159.8 429.9,161.8 432.4,161.6 434.6,161.6 437.3,162 439.9,164.6 442.1,168.1 444.7,169.9 446.9,172.1 449.1,171.6 451.7,174.3 453.9,172.3 456.5,174.3 458.7,174.1 460.9,173.8 463.5,170.9 465.7,173.8 467.9,169.5 470.5,166.2 472.7,166.4 475.3,167.7 477.5,167.1 480.2,167.3 482.8,168.3 485,168 487.6,166.8 489.8,169 489.8,173 487.6,170.8 485,172 482.8,172.3 480.2,171.3 477.5,171.1 475.3,171.7 472.7,170.4 470.5,170.2 467.9,173.5 465.7,177.8 463.5,174.9 460.9,177.8 458.7,178.1 456.5,178.3 453.9,176.3 451.7,178.3 449.1,175.6 446.9,176.1 444.7,173.9 442.1,172.1 439.9,168.6 437.3,166 434.6,165.6 432.4,165.6 429.9,165.8 427.7,163.8 425,162.9 422.8,164.3 420.2,166 417.6,165.6 415.4,162.5 412.8,165.1 410.6,166 408,170.8 405.8,176.1 403.6,176.5 401.4,178.7 399.2,177.8 397,177 394.4,180 391.8,177.4 389.1,177.4 386.9,175.6 384.8,174.3 382.1,173 379.9,170.4" fill="#b24b72" fill-opacity="0.14"/>
<polyline points="379.9,168.4 382.1,171 384.8,172.3 386.9,173.6 389.1,175.4 391.8,175.4 394.4,178 397,175 399.2,175.8 401.4,176.7 403.6,174.5 405.8,174.1 408,168.8 410.6,164 412.8,163.1 415.4,160.5 417.6,163.6 420.2,164 422.8,162.3 425,160.9 427.7,161.8 429.9,163.8 432.4,163.6 434.6,163.6 437.3,164 439.9,166.6 442.1,170.1 444.7,171.9 446.9,174.1 449.1,173.6 451.7,176.3 453.9,174.3 456.5,176.3 458.7,176.1 460.9,175.8 463.5,172.9 465.7,175.8 467.9,171.5 470.5,168.2 472.7,168.4 475.3,169.7 477.5,169.1 480.2,169.3 482.8,170.3 485,170 487.6,168.8 489.8,171" fill="none" stroke="#b24b72" stroke-width="1.45" stroke-linejoin="round" stroke-linecap="round"/>
<circle cx="379.9" cy="168.4" r="1.3" fill="#b24b72"/>
<circle cx="382.1" cy="171" r="1.3" fill="#b24b72"/>
<circle cx="384.8" cy="172.3" r="1.3" fill="#b24b72"/>
<circle cx="386.9" cy="173.6" r="1.3" fill="#b24b72"/>
<circle cx="389.1" cy="175.4" r="1.3" fill="#b24b72"/>
<circle cx="391.8" cy="175.4" r="1.3" fill="#b24b72"/>
<circle cx="394.4" cy="178" r="1.3" fill="#b24b72"/>
<circle cx="397" cy="175" r="1.3" fill="#b24b72"/>
<circle cx="399.2" cy="175.8" r="1.3" fill="#b24b72"/>
<circle cx="401.4" cy="176.7" r="1.3" fill="#b24b72"/>
<circle cx="403.6" cy="174.5" r="1.3" fill="#b24b72"/>
<circle cx="405.8" cy="174.1" r="1.3" fill="#b24b72"/>
<circle cx="408" cy="168.8" r="1.3" fill="#b24b72"/>
<circle cx="410.6" cy="164" r="1.3" fill="#b24b72"/>
<circle cx="412.8" cy="163.1" r="1.3" fill="#b24b72"/>
<circle cx="415.4" cy="160.5" r="1.3" fill="#b24b72"/>
<circle cx="417.6" cy="163.6" r="1.3" fill="#b24b72"/>
<circle cx="420.2" cy="164" r="1.3" fill="#b24b72"/>
<circle cx="422.8" cy="162.3" r="1.3" fill="#b24b72"/>
<circle cx="425" cy="160.9" r="1.3" fill="#b24b72"/>
<circle cx="427.7" cy="161.8" r="1.3" fill="#b24b72"/>
<circle cx="429.9" cy="163.8" r="1.3" fill="#b24b72"/>
<circle cx="432.4" cy="163.6" r="1.3" fill="#b24b72"/>
<circle cx="434.6" cy="163.6" r="1.3" fill="#b24b72"/>
<circle cx="437.3" cy="164" r="1.3" fill="#b24b72"/>
<circle cx="439.9" cy="166.6" r="1.3" fill="#b24b72"/>
<circle cx="442.1" cy="170.1" r="1.3" fill="#b24b72"/>
<circle cx="444.7" cy="171.9" r="1.3" fill="#b24b72"/>
<circle cx="446.9" cy="174.1" r="1.3" fill="#b24b72"/>
<circle cx="449.1" cy="173.6" r="1.3" fill="#b24b72"/>
<circle cx="451.7" cy="176.3" r="1.3" fill="#b24b72"/>
<circle cx="453.9" cy="174.3" r="1.3" fill="#b24b72"/>
<circle cx="456.5" cy="176.3" r="1.3" fill="#b24b72"/>
<circle cx="458.7" cy="176.1" r="1.3" fill="#b24b72"/>
<circle cx="460.9" cy="175.8" r="1.3" fill="#b24b72"/>
<circle cx="463.5" cy="172.9" r="1.3" fill="#b24b72"/>
<circle cx="465.7" cy="175.8" r="1.3" fill="#b24b72"/>
<circle cx="467.9" cy="171.5" r="1.3" fill="#b24b72"/>
<circle cx="470.5" cy="168.2" r="1.3" fill="#b24b72"/>
<circle cx="472.7" cy="168.4" r="1.3" fill="#b24b72"/>
<circle cx="475.3" cy="169.7" r="1.3" fill="#b24b72"/>
<circle cx="477.5" cy="169.1" r="1.3" fill="#b24b72"/>
<circle cx="480.2" cy="169.3" r="1.3" fill="#b24b72"/>
<circle cx="482.8" cy="170.3" r="1.3" fill="#b24b72"/>
<circle cx="485" cy="170" r="1.3" fill="#b24b72"/>
<circle cx="487.6" cy="168.8" r="1.3" fill="#b24b72"/>
<circle cx="489.8" cy="171" r="1.3" fill="#b24b72"/>
<polyline points="379.9,169.3 382.1,170.3 384.8,171.5 386.9,173.2 389.1,172.3 391.8,171 394.4,171.5 397,171.7 399.2,171.9 401.4,172.9 403.6,172.8 405.8,170.6 408,168.4 410.6,165.3 412.8,165.8 415.4,163.1 417.6,167.1 420.2,168.6 422.8,167.5 425,162.3 427.7,163.1 429.9,165.8 432.4,166.2 434.6,166.5 437.3,168.4 439.9,169.3 442.1,173.6 444.7,172.6 446.9,178 449.1,179.8 451.7,178.9 453.9,180.8 456.5,180.2 458.7,182 460.9,183.7 463.5,181.1 465.7,178.5 467.9,175 470.5,170.1 472.7,170.3 475.3,171 477.5,176.7 480.2,176.7 482.8,182.8 485,180.8 487.6,185.5 489.8,178.9" fill="none" stroke="#3a4592" stroke-width="1.45" stroke-linejoin="round" stroke-linecap="round"/>
<circle cx="379.9" cy="169.3" r="1.3" fill="#3a4592"/>
<circle cx="382.1" cy="170.3" r="1.3" fill="#3a4592"/>
<circle cx="384.8" cy="171.5" r="1.3" fill="#3a4592"/>
<circle cx="386.9" cy="173.2" r="1.3" fill="#3a4592"/>
<circle cx="389.1" cy="172.3" r="1.3" fill="#3a4592"/>
<circle cx="391.8" cy="171" r="1.3" fill="#3a4592"/>
<circle cx="394.4" cy="171.5" r="1.3" fill="#3a4592"/>
<circle cx="397" cy="171.7" r="1.3" fill="#3a4592"/>
<circle cx="399.2" cy="171.9" r="1.3" fill="#3a4592"/>
<circle cx="401.4" cy="172.9" r="1.3" fill="#3a4592"/>
<circle cx="403.6" cy="172.8" r="1.3" fill="#3a4592"/>
<circle cx="405.8" cy="170.6" r="1.3" fill="#3a4592"/>
<circle cx="408" cy="168.4" r="1.3" fill="#3a4592"/>
<circle cx="410.6" cy="165.3" r="1.3" fill="#3a4592"/>
<circle cx="412.8" cy="165.8" r="1.3" fill="#3a4592"/>
<circle cx="415.4" cy="163.1" r="1.3" fill="#3a4592"/>
<circle cx="417.6" cy="167.1" r="1.3" fill="#3a4592"/>
<circle cx="420.2" cy="168.6" r="1.3" fill="#3a4592"/>
<circle cx="422.8" cy="167.5" r="1.3" fill="#3a4592"/>
<circle cx="425" cy="162.3" r="1.3" fill="#3a4592"/>
<circle cx="427.7" cy="163.1" r="1.3" fill="#3a4592"/>
<circle cx="429.9" cy="165.8" r="1.3" fill="#3a4592"/>
<circle cx="432.4" cy="166.2" r="1.3" fill="#3a4592"/>
<circle cx="434.6" cy="166.5" r="1.3" fill="#3a4592"/>
<circle cx="437.3" cy="168.4" r="1.3" fill="#3a4592"/>
<circle cx="439.9" cy="169.3" r="1.3" fill="#3a4592"/>
<circle cx="442.1" cy="173.6" r="1.3" fill="#3a4592"/>
<circle cx="444.7" cy="172.6" r="1.3" fill="#3a4592"/>
<circle cx="446.9" cy="178" r="1.3" fill="#3a4592"/>
<circle cx="449.1" cy="179.8" r="1.3" fill="#3a4592"/>
<circle cx="451.7" cy="178.9" r="1.3" fill="#3a4592"/>
<circle cx="453.9" cy="180.8" r="1.3" fill="#3a4592"/>
<circle cx="456.5" cy="180.2" r="1.3" fill="#3a4592"/>
<circle cx="458.7" cy="182" r="1.3" fill="#3a4592"/>
<circle cx="460.9" cy="183.7" r="1.3" fill="#3a4592"/>
<circle cx="463.5" cy="181.1" r="1.3" fill="#3a4592"/>
<circle cx="465.7" cy="178.5" r="1.3" fill="#3a4592"/>
<circle cx="467.9" cy="175" r="1.3" fill="#3a4592"/>
<circle cx="470.5" cy="170.1" r="1.3" fill="#3a4592"/>
<circle cx="472.7" cy="170.3" r="1.3" fill="#3a4592"/>
<circle cx="475.3" cy="171" r="1.3" fill="#3a4592"/>
<circle cx="477.5" cy="176.7" r="1.3" fill="#3a4592"/>
<circle cx="480.2" cy="176.7" r="1.3" fill="#3a4592"/>
<circle cx="482.8" cy="182.8" r="1.3" fill="#3a4592"/>
<circle cx="485" cy="180.8" r="1.3" fill="#3a4592"/>
<circle cx="487.6" cy="185.5" r="1.3" fill="#3a4592"/>
<circle cx="489.8" cy="178.9" r="1.3" fill="#3a4592"/>
<line x1="379.7" y1="144.5" x2="379.7" y2="206.7" stroke="#7a7a7a" stroke-width="0.8"/>
<line x1="379.7" y1="206.7" x2="490.1" y2="206.7" stroke="#7a7a7a" stroke-width="0.8"/>
<line x1="379.7" y1="206.7" x2="379.7" y2="208.7" stroke="#7a7a7a" stroke-width="0.7"/>
<line x1="408.4" y1="206.7" x2="408.4" y2="208.7" stroke="#7a7a7a" stroke-width="0.7"/>
<line x1="437.2" y1="206.7" x2="437.2" y2="208.7" stroke="#7a7a7a" stroke-width="0.7"/>
<line x1="466" y1="206.7" x2="466" y2="208.7" stroke="#7a7a7a" stroke-width="0.7"/>
<line x1="490.1" y1="206.7" x2="490.1" y2="208.7" stroke="#7a7a7a" stroke-width="0.7"/>
<rect x="379.7" y="202.5" width="28.7" height="4.2" fill="#fff" stroke="#111" stroke-width="0.5"/>
<rect x="408.4" y="202.5" width="28.8" height="4.2" fill="#000" stroke="#111" stroke-width="0.5"/>
<rect x="437.2" y="202.5" width="28.8" height="4.2" fill="#fff" stroke="#111" stroke-width="0.5"/>
<rect x="466" y="202.5" width="24.1" height="4.2" fill="#000" stroke="#111" stroke-width="0.5"/>
<line x1="377.5" y1="144.7" x2="379.7" y2="144.7" stroke="#7a7a7a" stroke-width="0.7"/>
<text x="374.1" y="147.4" font-size="7.5" text-anchor="end" fill="#333" textLength="9.4" lengthAdjust="spacingAndGlyphs">40</text>
<line x1="377.5" y1="160.3" x2="379.7" y2="160.3" stroke="#7a7a7a" stroke-width="0.7"/>
<text x="374.1" y="163" font-size="7.5" text-anchor="end" fill="#333" textLength="9.4" lengthAdjust="spacingAndGlyphs">38</text>
<line x1="377.5" y1="176" x2="379.7" y2="176" stroke="#7a7a7a" stroke-width="0.7"/>
<text x="374.1" y="178.7" font-size="7.5" text-anchor="end" fill="#333" textLength="9.4" lengthAdjust="spacingAndGlyphs">36</text>
<line x1="377.5" y1="191.4" x2="379.7" y2="191.4" stroke="#7a7a7a" stroke-width="0.7"/>
<text x="374.1" y="194.1" font-size="7.5" text-anchor="end" fill="#333" textLength="9.4" lengthAdjust="spacingAndGlyphs">34</text>
<line x1="377.5" y1="206.7" x2="379.7" y2="206.7" stroke="#7a7a7a" stroke-width="0.7"/>
<text x="374.1" y="209.4" font-size="7.5" text-anchor="end" fill="#333" textLength="9.4" lengthAdjust="spacingAndGlyphs">32</text>
<text x="379.7" y="218.6" font-size="7.7" text-anchor="middle" fill="#333" textLength="5" lengthAdjust="spacingAndGlyphs">0</text>
<text x="408.4" y="218.6" font-size="7.7" text-anchor="middle" fill="#333" textLength="7.4" lengthAdjust="spacingAndGlyphs">12</text>
<text x="437.2" y="218.6" font-size="7.7" text-anchor="middle" fill="#333" textLength="5" lengthAdjust="spacingAndGlyphs">0</text>
<text x="466" y="218.6" font-size="7.7" text-anchor="middle" fill="#333" textLength="7.4" lengthAdjust="spacingAndGlyphs">12</text>
<text x="434.3" y="230.4" font-size="8.6" text-anchor="middle" textLength="22.2" lengthAdjust="spacingAndGlyphs">ZT (h)</text>
<text x="0" y="0" font-size="9" text-anchor="middle" transform="translate(358.5,175.1) rotate(-90)" textLength="25" lengthAdjust="spacingAndGlyphs"><tspan font-style="italic">T</tspan><tspan font-size="6.6" dy="1.6">b</tspan><tspan dy="-1.6"> (°C)</tspan></text>
<text x="0" y="0" font-size="9" text-anchor="middle" transform="translate(347.1,167.7) rotate(-90)" textLength="14.6" lengthAdjust="spacingAndGlyphs">WT</text>
<line x1="344.5" y1="127" x2="344.5" y2="158.5" stroke="#555" stroke-width="0.7" stroke-dasharray="3,3"/>
<line x1="344.5" y1="177" x2="344.5" y2="215.6" stroke="#555" stroke-width="0.7" stroke-dasharray="3,3"/>
<line x1="471.5" y1="118.8" x2="477.7" y2="118.8" stroke="#3a4592" stroke-width="1.2"/>
<text x="479.6" y="121.6" font-size="8.6">S</text>
<line x1="499" y1="118.8" x2="505.7" y2="118.8" stroke="#b24b72" stroke-width="1.2"/>
<text x="509" y="121.6" font-size="8.6" textLength="9.5" lengthAdjust="spacingAndGlyphs">LL</text>
<rect x="467.8" y="271.7" width="16.9" height="58.1" fill="#e7eef8"/>
<rect x="411.5" y="253" width="78.6" height="5.5" fill="url(#gbar)" stroke="#3a3a3a" stroke-width="0.6"/>
<line x1="417" y1="259.8" x2="417" y2="264.3" stroke="#000" stroke-width="0.9"/>
<polygon points="415.3,264 418.7,264 417,267.8" fill="#000"/>
<line x1="434.3" y1="259.8" x2="434.3" y2="264.3" stroke="#000" stroke-width="0.9"/>
<polygon points="432.6,264 436,264 434.3,267.8" fill="#000"/>
<line x1="468.5" y1="259.8" x2="468.5" y2="264.3" stroke="#000" stroke-width="0.9"/>
<polygon points="466.8,264 470.2,264 468.5,267.8" fill="#000"/>
<polygon points="379.5,275.6 381.7,279.6 383.9,279.6 386.1,281.8 388.7,280 391.3,279.8 393.5,280.9 395.7,280.2 398.3,279 401,281.1 403.1,280.7 405.8,279.1 408,277.2 410.2,274.8 412.3,275.6 415,276.3 417.6,277.2 419.8,279 422.4,279 425,278.7 427.2,277.8 429.4,280.2 432,280.2 434.6,280.2 437.3,280.4 439.9,281.6 442.1,282.2 444.3,284.2 446.4,285.4 449.1,286.6 451.3,288.9 453.5,284.2 455.6,287.9 458.3,289.6 460.9,289.6 463.1,284.8 465.7,283.5 467.9,280.9 470.5,280.4 472.7,280.9 474.9,286 477.5,288.9 480,294 482.4,300.6 485,303.2 487.2,297.1 489.8,295.8 489.8,299.8 487.2,301.1 485,307.2 482.4,304.6 480,298 477.5,292.9 474.9,290 472.7,284.9 470.5,284.4 467.9,284.9 465.7,287.5 463.1,288.8 460.9,293.6 458.3,293.6 455.6,291.9 453.5,288.2 451.3,292.9 449.1,290.6 446.4,289.4 444.3,288.2 442.1,286.2 439.9,285.6 437.3,284.4 434.6,284.2 432,284.2 429.4,284.2 427.2,281.8 425,282.7 422.4,283 419.8,283 417.6,281.2 415,280.3 412.3,279.6 410.2,278.8 408,281.2 405.8,283.1 403.1,284.7 401,285.1 398.3,283 395.7,284.2 393.5,284.9 391.3,283.8 388.7,284 386.1,285.8 383.9,283.6 381.7,283.6 379.5,279.6" fill="#3a4592" fill-opacity="0.14"/>
<polygon points="379.5,275.5 381.7,277.8 383.9,279.1 386.1,281.3 388.7,281.8 391.3,282.2 393.5,281.9 395.7,281.6 398.3,280.4 401,280.4 403.1,280.4 405.8,279.1 408,277.8 410.2,275.5 412.3,274.8 415,275.6 417.6,276.5 419.8,278.4 422.4,280.9 425,282.2 427.2,277.4 429.4,284 432,290.3 433.9,281.3 436.8,279.1 439,283.1 441.2,286.1 443.8,291 446.4,289.6 449.1,289.2 451.3,284.8 453.5,284.8 455.6,296.2 458.3,301.7 460.9,296.2 463.1,287 465.7,286.8 467.9,279.3 470.5,277.8 472.7,279 475.3,281.3 477.5,283.1 480,288.8 482.6,291 485,303.7 487.3,312.6 489.8,300.2 489.8,304.2 487.3,316.6 485,307.7 482.6,295 480,292.8 477.5,287.1 475.3,285.3 472.7,283 470.5,281.8 467.9,283.3 465.7,290.8 463.1,291 460.9,300.2 458.3,305.7 455.6,300.2 453.5,288.8 451.3,288.8 449.1,293.2 446.4,293.6 443.8,295 441.2,290.1 439,287.1 436.8,283.1 433.9,285.3 432,294.3 429.4,288 427.2,281.4 425,286.2 422.4,284.9 419.8,282.4 417.6,280.5 415,279.6 412.3,278.8 410.2,279.5 408,281.8 405.8,283.1 403.1,284.4 401,284.4 398.3,284.4 395.7,285.6 393.5,285.9 391.3,286.2 388.7,285.8 386.1,285.3 383.9,283.1 381.7,281.8 379.5,279.5" fill="#b24b72" fill-opacity="0.14"/>
<polyline points="379.5,277.5 381.7,279.8 383.9,281.1 386.1,283.3 388.7,283.8 391.3,284.2 393.5,283.9 395.7,283.6 398.3,282.4 401,282.4 403.1,282.4 405.8,281.1 408,279.8 410.2,277.5 412.3,276.8 415,277.6 417.6,278.5 419.8,280.4 422.4,282.9 425,284.2 427.2,279.4 429.4,286 432,292.3 433.9,283.3 436.8,281.1 439,285.1 441.2,288.1 443.8,293 446.4,291.6 449.1,291.2 451.3,286.8 453.5,286.8 455.6,298.2 458.3,303.7 460.9,298.2 463.1,289 465.7,288.8 467.9,281.3 470.5,279.8 472.7,281 475.3,283.3 477.5,285.1 480,290.8 482.6,293 485,305.7 487.3,314.6 489.8,302.2" fill="none" stroke="#b24b72" stroke-width="1.45" stroke-linejoin="round" stroke-linecap="round"/>
<circle cx="379.5" cy="277.5" r="1.3" fill="#b24b72"/>
<circle cx="381.7" cy="279.8" r="1.3" fill="#b24b72"/>
<circle cx="383.9" cy="281.1" r="1.3" fill="#b24b72"/>
<circle cx="386.1" cy="283.3" r="1.3" fill="#b24b72"/>
<circle cx="388.7" cy="283.8" r="1.3" fill="#b24b72"/>
<circle cx="391.3" cy="284.2" r="1.3" fill="#b24b72"/>
<circle cx="393.5" cy="283.9" r="1.3" fill="#b24b72"/>
<circle cx="395.7" cy="283.6" r="1.3" fill="#b24b72"/>
<circle cx="398.3" cy="282.4" r="1.3" fill="#b24b72"/>
<circle cx="401" cy="282.4" r="1.3" fill="#b24b72"/>
<circle cx="403.1" cy="282.4" r="1.3" fill="#b24b72"/>
<circle cx="405.8" cy="281.1" r="1.3" fill="#b24b72"/>
<circle cx="408" cy="279.8" r="1.3" fill="#b24b72"/>
<circle cx="410.2" cy="277.5" r="1.3" fill="#b24b72"/>
<circle cx="412.3" cy="276.8" r="1.3" fill="#b24b72"/>
<circle cx="415" cy="277.6" r="1.3" fill="#b24b72"/>
<circle cx="417.6" cy="278.5" r="1.3" fill="#b24b72"/>
<circle cx="419.8" cy="280.4" r="1.3" fill="#b24b72"/>
<circle cx="422.4" cy="282.9" r="1.3" fill="#b24b72"/>
<circle cx="425" cy="284.2" r="1.3" fill="#b24b72"/>
<circle cx="427.2" cy="279.4" r="1.3" fill="#b24b72"/>
<circle cx="429.4" cy="286" r="1.3" fill="#b24b72"/>
<circle cx="432" cy="292.3" r="1.3" fill="#b24b72"/>
<circle cx="433.9" cy="283.3" r="1.3" fill="#b24b72"/>
<circle cx="436.8" cy="281.1" r="1.3" fill="#b24b72"/>
<circle cx="439" cy="285.1" r="1.3" fill="#b24b72"/>
<circle cx="441.2" cy="288.1" r="1.3" fill="#b24b72"/>
<circle cx="443.8" cy="293" r="1.3" fill="#b24b72"/>
<circle cx="446.4" cy="291.6" r="1.3" fill="#b24b72"/>
<circle cx="449.1" cy="291.2" r="1.3" fill="#b24b72"/>
<circle cx="451.3" cy="286.8" r="1.3" fill="#b24b72"/>
<circle cx="453.5" cy="286.8" r="1.3" fill="#b24b72"/>
<circle cx="455.6" cy="298.2" r="1.3" fill="#b24b72"/>
<circle cx="458.3" cy="303.7" r="1.3" fill="#b24b72"/>
<circle cx="460.9" cy="298.2" r="1.3" fill="#b24b72"/>
<circle cx="463.1" cy="289" r="1.3" fill="#b24b72"/>
<circle cx="465.7" cy="288.8" r="1.3" fill="#b24b72"/>
<circle cx="467.9" cy="281.3" r="1.3" fill="#b24b72"/>
<circle cx="470.5" cy="279.8" r="1.3" fill="#b24b72"/>
<circle cx="472.7" cy="281" r="1.3" fill="#b24b72"/>
<circle cx="475.3" cy="283.3" r="1.3" fill="#b24b72"/>
<circle cx="477.5" cy="285.1" r="1.3" fill="#b24b72"/>
<circle cx="480" cy="290.8" r="1.3" fill="#b24b72"/>
<circle cx="482.6" cy="293" r="1.3" fill="#b24b72"/>
<circle cx="485" cy="305.7" r="1.3" fill="#b24b72"/>
<circle cx="487.3" cy="314.6" r="1.3" fill="#b24b72"/>
<circle cx="489.8" cy="302.2" r="1.3" fill="#b24b72"/>
<polyline points="379.5,277.6 381.7,281.6 383.9,281.6 386.1,283.8 388.7,282 391.3,281.8 393.5,282.9 395.7,282.2 398.3,281 401,283.1 403.1,282.7 405.8,281.1 408,279.2 410.2,276.8 412.3,277.6 415,278.3 417.6,279.2 419.8,281 422.4,281 425,280.7 427.2,279.8 429.4,282.2 432,282.2 434.6,282.2 437.3,282.4 439.9,283.6 442.1,284.2 444.3,286.2 446.4,287.4 449.1,288.6 451.3,290.9 453.5,286.2 455.6,289.9 458.3,291.6 460.9,291.6 463.1,286.8 465.7,285.5 467.9,282.9 470.5,282.4 472.7,282.9 474.9,288 477.5,290.9 480,296 482.4,302.6 485,305.2 487.2,299.1 489.8,297.8" fill="none" stroke="#3a4592" stroke-width="1.45" stroke-linejoin="round" stroke-linecap="round"/>
<circle cx="379.5" cy="277.6" r="1.3" fill="#3a4592"/>
<circle cx="381.7" cy="281.6" r="1.3" fill="#3a4592"/>
<circle cx="383.9" cy="281.6" r="1.3" fill="#3a4592"/>
<circle cx="386.1" cy="283.8" r="1.3" fill="#3a4592"/>
<circle cx="388.7" cy="282" r="1.3" fill="#3a4592"/>
<circle cx="391.3" cy="281.8" r="1.3" fill="#3a4592"/>
<circle cx="393.5" cy="282.9" r="1.3" fill="#3a4592"/>
<circle cx="395.7" cy="282.2" r="1.3" fill="#3a4592"/>
<circle cx="398.3" cy="281" r="1.3" fill="#3a4592"/>
<circle cx="401" cy="283.1" r="1.3" fill="#3a4592"/>
<circle cx="403.1" cy="282.7" r="1.3" fill="#3a4592"/>
<circle cx="405.8" cy="281.1" r="1.3" fill="#3a4592"/>
<circle cx="408" cy="279.2" r="1.3" fill="#3a4592"/>
<circle cx="410.2" cy="276.8" r="1.3" fill="#3a4592"/>
<circle cx="412.3" cy="277.6" r="1.3" fill="#3a4592"/>
<circle cx="415" cy="278.3" r="1.3" fill="#3a4592"/>
<circle cx="417.6" cy="279.2" r="1.3" fill="#3a4592"/>
<circle cx="419.8" cy="281" r="1.3" fill="#3a4592"/>
<circle cx="422.4" cy="281" r="1.3" fill="#3a4592"/>
<circle cx="425" cy="280.7" r="1.3" fill="#3a4592"/>
<circle cx="427.2" cy="279.8" r="1.3" fill="#3a4592"/>
<circle cx="429.4" cy="282.2" r="1.3" fill="#3a4592"/>
<circle cx="432" cy="282.2" r="1.3" fill="#3a4592"/>
<circle cx="434.6" cy="282.2" r="1.3" fill="#3a4592"/>
<circle cx="437.3" cy="282.4" r="1.3" fill="#3a4592"/>
<circle cx="439.9" cy="283.6" r="1.3" fill="#3a4592"/>
<circle cx="442.1" cy="284.2" r="1.3" fill="#3a4592"/>
<circle cx="444.3" cy="286.2" r="1.3" fill="#3a4592"/>
<circle cx="446.4" cy="287.4" r="1.3" fill="#3a4592"/>
<circle cx="449.1" cy="288.6" r="1.3" fill="#3a4592"/>
<circle cx="451.3" cy="290.9" r="1.3" fill="#3a4592"/>
<circle cx="453.5" cy="286.2" r="1.3" fill="#3a4592"/>
<circle cx="455.6" cy="289.9" r="1.3" fill="#3a4592"/>
<circle cx="458.3" cy="291.6" r="1.3" fill="#3a4592"/>
<circle cx="460.9" cy="291.6" r="1.3" fill="#3a4592"/>
<circle cx="463.1" cy="286.8" r="1.3" fill="#3a4592"/>
<circle cx="465.7" cy="285.5" r="1.3" fill="#3a4592"/>
<circle cx="467.9" cy="282.9" r="1.3" fill="#3a4592"/>
<circle cx="470.5" cy="282.4" r="1.3" fill="#3a4592"/>
<circle cx="472.7" cy="282.9" r="1.3" fill="#3a4592"/>
<circle cx="474.9" cy="288" r="1.3" fill="#3a4592"/>
<circle cx="477.5" cy="290.9" r="1.3" fill="#3a4592"/>
<circle cx="480" cy="296" r="1.3" fill="#3a4592"/>
<circle cx="482.4" cy="302.6" r="1.3" fill="#3a4592"/>
<circle cx="485" cy="305.2" r="1.3" fill="#3a4592"/>
<circle cx="487.2" cy="299.1" r="1.3" fill="#3a4592"/>
<circle cx="489.8" cy="297.8" r="1.3" fill="#3a4592"/>
<line x1="379.2" y1="271.7" x2="379.2" y2="333.7" stroke="#7a7a7a" stroke-width="0.8"/>
<line x1="379.2" y1="333.7" x2="490.1" y2="333.7" stroke="#7a7a7a" stroke-width="0.8"/>
<line x1="379.2" y1="333.7" x2="379.2" y2="335.7" stroke="#7a7a7a" stroke-width="0.7"/>
<line x1="408.2" y1="333.7" x2="408.2" y2="335.7" stroke="#7a7a7a" stroke-width="0.7"/>
<line x1="436.8" y1="333.7" x2="436.8" y2="335.7" stroke="#7a7a7a" stroke-width="0.7"/>
<line x1="465.8" y1="333.7" x2="465.8" y2="335.7" stroke="#7a7a7a" stroke-width="0.7"/>
<line x1="490.1" y1="333.7" x2="490.1" y2="335.7" stroke="#7a7a7a" stroke-width="0.7"/>
<rect x="379.2" y="329.8" width="29" height="3.9" fill="#fff" stroke="#111" stroke-width="0.5"/>
<rect x="408.2" y="329.8" width="28.6" height="3.9" fill="#000" stroke="#111" stroke-width="0.5"/>
<rect x="436.8" y="329.8" width="29" height="3.9" fill="#fff" stroke="#111" stroke-width="0.5"/>
<rect x="465.8" y="329.8" width="24.3" height="3.9" fill="#000" stroke="#111" stroke-width="0.5"/>
<line x1="377" y1="271.7" x2="379.2" y2="271.7" stroke="#7a7a7a" stroke-width="0.7"/>
<text x="373.6" y="274.4" font-size="7.5" text-anchor="end" fill="#333" textLength="9.4" lengthAdjust="spacingAndGlyphs">40</text>
<line x1="377" y1="287.1" x2="379.2" y2="287.1" stroke="#7a7a7a" stroke-width="0.7"/>
<text x="373.6" y="289.8" font-size="7.5" text-anchor="end" fill="#333" textLength="9.4" lengthAdjust="spacingAndGlyphs">35</text>
<line x1="377" y1="302.7" x2="379.2" y2="302.7" stroke="#7a7a7a" stroke-width="0.7"/>
<text x="373.6" y="305.4" font-size="7.5" text-anchor="end" fill="#333" textLength="9.4" lengthAdjust="spacingAndGlyphs">30</text>
<line x1="377" y1="318.1" x2="379.2" y2="318.1" stroke="#7a7a7a" stroke-width="0.7"/>
<text x="373.6" y="320.8" font-size="7.5" text-anchor="end" fill="#333" textLength="9.4" lengthAdjust="spacingAndGlyphs">25</text>
<text x="379.2" y="345.8" font-size="7.7" text-anchor="middle" fill="#333" textLength="5" lengthAdjust="spacingAndGlyphs">0</text>
<text x="408.2" y="345.8" font-size="7.7" text-anchor="middle" fill="#333" textLength="7.4" lengthAdjust="spacingAndGlyphs">12</text>
<text x="436.8" y="345.8" font-size="7.7" text-anchor="middle" fill="#333" textLength="5" lengthAdjust="spacingAndGlyphs">0</text>
<text x="465.8" y="345.8" font-size="7.7" text-anchor="middle" fill="#333" textLength="7.4" lengthAdjust="spacingAndGlyphs">12</text>
<text x="434.3" y="358.4" font-size="8.6" text-anchor="middle" textLength="22.2" lengthAdjust="spacingAndGlyphs">ZT (h)</text>
<text x="0" y="0" font-size="9" text-anchor="middle" transform="translate(358.5,302.4) rotate(-90)" textLength="25" lengthAdjust="spacingAndGlyphs"><tspan font-style="italic">T</tspan><tspan font-size="6.6" dy="1.6">b</tspan><tspan dy="-1.6"> (°C)</tspan></text>
<text x="0" y="0" font-size="9" text-anchor="middle" transform="translate(347.1,295) rotate(-90)" textLength="14.2" lengthAdjust="spacingAndGlyphs">KO</text>
<line x1="344.5" y1="254.3" x2="344.5" y2="285.8" stroke="#555" stroke-width="0.7" stroke-dasharray="3,3"/>
<line x1="344.5" y1="304.3" x2="344.5" y2="342.9" stroke="#555" stroke-width="0.7" stroke-dasharray="3,3"/>
<rect x="166.6" y="144.8" width="92.4" height="61.4" fill="#e7eef8"/>
<polygon points="166.8,169.4 167.9,169 168.7,169.9 169.6,180.2 170.5,187.5 171.8,180.2 173.1,173.3 174.3,171.4 175.6,172.9 176.9,171.6 178.7,171.4 180.4,172 182.1,174.6 183.8,177.2 185.6,175.5 186.8,173.7 188.6,174.2 190.7,174 192.4,173.7 194.6,175 195.9,178.1 197.2,181.1 198.9,179.8 200.6,179.5 202.4,178.5 204.1,175 206.2,171.8 208,173.3 210,174.9 211.8,175.8 214,178.1 215.8,180.3 217.6,179.9 219.4,180.3 221.2,178.1 223,174.9 224.8,174.5 226.6,177.6 228.4,178.1 230.2,179 232.4,180.8 234.2,182.1 236,183.3 237.8,182.6 240,181.7 241.8,184.2 243.2,185.3 245,183.5 246.8,182.6 248.6,182.4 249.9,176.3 251.3,172.3 252.6,174 254.4,177.2 256.2,179.9 258.4,181.2 258.4,193.2 256.2,191.9 254.4,189.2 252.6,186 251.3,184.3 249.9,188.3 248.6,194.4 246.8,194.6 245,195.5 243.2,197.3 241.8,196.2 240,193.7 237.8,194.6 236,195.3 234.2,194.1 232.4,192.8 230.2,191 228.4,190.1 226.6,189.6 224.8,186.5 223,186.9 221.2,190.1 219.4,192.3 217.6,191.9 215.8,192.3 214,190.1 211.8,187.8 210,186.9 208,185.3 206.2,183.8 204.1,187 202.4,190.5 200.6,191.5 198.9,191.8 197.2,193.1 195.9,190.1 194.6,187 192.4,185.7 190.7,186 188.6,186.2 186.8,185.7 185.6,187.5 183.8,189.2 182.1,186.6 180.4,184 178.7,183.4 176.9,183.6 175.6,184.9 174.3,183.4 173.1,185.3 171.8,192.2 170.5,199.5 169.6,192.2 168.7,181.9 167.9,181 166.8,181.4" fill="#5a64a8" fill-opacity="0.22"/>
<polygon points="166.8,168.8 167.9,166.7 168.7,171 170,177 170.9,179.6 172.2,175.3 173.5,170.1 174.8,164.5 176.1,163.7 177.4,162.4 178.7,165.8 179.9,166.3 181.7,168.8 183.4,167.6 184.7,163.2 186,159.8 187.7,158.1 189.4,158.1 191.2,158.9 192.9,161.1 194.6,159.8 196.3,160.7 198,161.5 199.8,162.4 201.5,160.2 203.7,158.5 205.4,159.8 207.1,162.4 208.8,163.2 211,164.1 212.7,164.8 214.5,163.5 216.7,162.6 218.5,164.4 220.3,165.3 222.1,162.1 223.9,162.6 225.7,163 227,165.3 228.8,166.2 230.6,171.1 232.4,175.6 234.2,174.3 236.5,174.7 238.3,176 240.5,176.9 242.3,174.7 244.5,177.4 246.3,179.2 248.1,173.8 249.9,171.1 251.7,168.9 253.5,167.1 255.3,168.9 256.6,171.1 258.4,176 258.4,184 256.6,179.1 255.3,176.9 253.5,175.1 251.7,176.9 249.9,179.1 248.1,181.8 246.3,187.2 244.5,185.4 242.3,182.7 240.5,184.9 238.3,184 236.5,182.7 234.2,182.3 232.4,183.6 230.6,179.1 228.8,174.2 227,173.3 225.7,171 223.9,170.6 222.1,170.1 220.3,173.3 218.5,172.4 216.7,170.6 214.5,171.5 212.7,172.8 211,172.1 208.8,171.2 207.1,170.4 205.4,167.8 203.7,166.5 201.5,168.2 199.8,170.4 198,169.5 196.3,168.7 194.6,167.8 192.9,169.1 191.2,166.9 189.4,166.1 187.7,166.1 186,167.8 184.7,171.2 183.4,175.6 181.7,176.8 179.9,174.3 178.7,173.8 177.4,170.4 176.1,171.7 174.8,172.5 173.5,178.1 172.2,183.3 170.9,187.6 170,185 168.7,179 167.9,174.7 166.8,176.8" fill="#d07a96" fill-opacity="0.25"/>
<polyline points="166.8,172.8 167.9,170.7 168.7,175 170,181 170.9,183.6 172.2,179.3 173.5,174.1 174.8,168.5 176.1,167.7 177.4,166.4 178.7,169.8 179.9,170.3 181.7,172.8 183.4,171.6 184.7,167.2 186,163.8 187.7,162.1 189.4,162.1 191.2,162.9 192.9,165.1 194.6,163.8 196.3,164.7 198,165.5 199.8,166.4 201.5,164.2 203.7,162.5 205.4,163.8 207.1,166.4 208.8,167.2 211,168.1 212.7,168.8 214.5,167.5 216.7,166.6 218.5,168.4 220.3,169.3 222.1,166.1 223.9,166.6 225.7,167 227,169.3 228.8,170.2 230.6,175.1 232.4,179.6 234.2,178.3 236.5,178.7 238.3,180 240.5,180.9 242.3,178.7 244.5,181.4 246.3,183.2 248.1,177.8 249.9,175.1 251.7,172.9 253.5,171.1 255.3,172.9 256.6,175.1 258.4,180" fill="none" stroke="#b24b72" stroke-width="1.4" stroke-linejoin="round" stroke-linecap="round"/>
<polyline points="166.8,175.4 167.9,175 168.7,175.9 169.6,186.2 170.5,193.5 171.8,186.2 173.1,179.3 174.3,177.4 175.6,178.9 176.9,177.6 178.7,177.4 180.4,178 182.1,180.6 183.8,183.2 185.6,181.5 186.8,179.7 188.6,180.2 190.7,180 192.4,179.7 194.6,181 195.9,184.1 197.2,187.1 198.9,185.8 200.6,185.5 202.4,184.5 204.1,181 206.2,177.8 208,179.3 210,180.9 211.8,181.8 214,184.1 215.8,186.3 217.6,185.9 219.4,186.3 221.2,184.1 223,180.9 224.8,180.5 226.6,183.6 228.4,184.1 230.2,185 232.4,186.8 234.2,188.1 236,189.3 237.8,188.6 240,187.7 241.8,190.2 243.2,191.3 245,189.5 246.8,188.6 248.6,188.4 249.9,182.3 251.3,178.3 252.6,180 254.4,183.2 256.2,185.9 258.4,187.2" fill="none" stroke="#3a4592" stroke-width="1.4" stroke-linejoin="round" stroke-linecap="round"/>
<line x1="166.6" y1="144.8" x2="166.6" y2="206.2" stroke="#7a7a7a" stroke-width="0.8"/>
<line x1="166.6" y1="206.2" x2="259" y2="206.2" stroke="#7a7a7a" stroke-width="0.8"/>
<line x1="164.4" y1="159" x2="166.6" y2="159" stroke="#7a7a7a" stroke-width="0.7"/>
<text x="161" y="161.7" font-size="7.5" text-anchor="end" fill="#333">4</text>
<line x1="164.4" y1="182.7" x2="166.6" y2="182.7" stroke="#7a7a7a" stroke-width="0.7"/>
<text x="161" y="185.4" font-size="7.5" text-anchor="end" fill="#333">3</text>
<line x1="164.4" y1="206.2" x2="166.6" y2="206.2" stroke="#7a7a7a" stroke-width="0.7"/>
<text x="161" y="208.9" font-size="7.5" text-anchor="end" fill="#333">2</text>
<line x1="172.3" y1="206.2" x2="172.3" y2="209.6" stroke="#7a7a7a" stroke-width="0.75"/>
<line x1="197.3" y1="206.2" x2="197.3" y2="209.6" stroke="#7a7a7a" stroke-width="0.75"/>
<line x1="222.3" y1="206.2" x2="222.3" y2="209.6" stroke="#7a7a7a" stroke-width="0.75"/>
<line x1="246.8" y1="206.2" x2="246.8" y2="209.6" stroke="#7a7a7a" stroke-width="0.75"/>
<text x="172.3" y="218.5" font-size="7.7" text-anchor="middle" fill="#333" textLength="5.2" lengthAdjust="spacingAndGlyphs">0</text>
<text x="197.3" y="218.5" font-size="7.7" text-anchor="middle" fill="#333" textLength="5.2" lengthAdjust="spacingAndGlyphs">2</text>
<text x="222.3" y="218.5" font-size="7.7" text-anchor="middle" fill="#333" textLength="5.2" lengthAdjust="spacingAndGlyphs">4</text>
<text x="246.8" y="218.5" font-size="7.7" text-anchor="middle" fill="#333" textLength="5.2" lengthAdjust="spacingAndGlyphs">6</text>
<text x="216.2" y="137.9" font-size="9.2" text-anchor="middle" textLength="74.5" lengthAdjust="spacingAndGlyphs">Averaging all mice</text>
<text x="157" y="230.5" font-size="9.2" textLength="111" lengthAdjust="spacingAndGlyphs">Time after third injection (h)</text>
<rect x="166.6" y="271.8" width="92.8" height="61.9" fill="#e7eef8"/>
<polygon points="166.8,283.5 167.5,284.5 168.5,289 169.5,295 170.2,301 171,307 171.8,309 172.8,305.5 174,303 175.5,302.5 177,303 178.5,306 180,308 181.5,309 183.5,308.5 185.5,304 187.5,302 189.5,298.5 191.5,299.5 193.5,300 195.5,298.8 197.5,298.5 199.5,298 201.5,297.5 203.5,296 205.5,295 207,293.5 209,294 211,292.5 212,291.5 213.8,288.5 215.5,290 217.5,293 220,296 222,292.5 224,291.5 226.5,291.2 229,291.5 231,291.8 232.5,293 234,294 236,292.5 238,290.5 240,289.2 242.5,289.5 244.8,289 246.5,291 248.5,293.5 251,293.5 252.5,297 254,301.5 255.5,302 257,300 258,299.5 259.2,301.5 259.2,315.5 258,313.5 257,314 255.5,316 254,315.5 252.5,311 251,307.5 248.5,307.5 246.5,305 244.8,303 242.5,303.5 240,303.2 238,304.5 236,306.5 234,308 232.5,307 231,305.8 229,305.5 226.5,305.2 224,305.5 222,306.5 220,310 217.5,307 215.5,304 213.8,302.5 212,305.5 211,306.5 209,308 207,307.5 205.5,309 203.5,310 201.5,311.5 199.5,312 197.5,312.5 195.5,312.8 193.5,314 191.5,313.5 189.5,312.5 187.5,316 185.5,318 183.5,316.5 181.5,317 180,316 178.5,314 177,311 175.5,310.5 174,311 172.8,313.5 171.8,317 171,315 170.2,309 169.5,303 168.5,297 167.5,292.5 166.8,291.5" fill="#5a64a8" fill-opacity="0.22"/>
<polygon points="166.8,295.5 167.5,299 168.5,300 169.5,303 170.5,310 171.5,315 172.2,317 173,314 174,310 175.5,309 177,307 178.5,308 180,312 181.5,313.5 183.5,313 185.5,310 187.5,309.5 189,303 190.5,299.5 192,297 193.5,294 195,290 196.2,282.5 197,279 198,278.5 198.8,278 199.5,283 200.2,289 201.5,294.5 203.5,295.5 205.5,297 207,295 209,296 211,296.5 212,297 214,296.8 216,295.5 218,290.8 220,290.5 222,292.5 224,296 226,297.5 228,297.5 229.5,295.5 231,294.5 232.5,293 234,292.8 235.5,295.5 237,297.5 239,296.5 241,295 243,293.5 245,293.2 247,295.5 249,298.5 251,299 253,300 255,301 257,302 259.2,303.8 259.2,315.8 257,314 255,313 253,312 251,311 249,310.5 247,307.5 245,305.2 243,305.5 241,307 239,308.5 237,309.5 235.5,307.5 234,304.8 232.5,305 231,306.5 229.5,307.5 228,309.5 226,309.5 224,308 222,304.5 220,302.5 218,302.8 216,307.5 214,308.8 212,309 211,308.5 209,308 207,307 205.5,309 203.5,307.5 201.5,306.5 200.2,307 199.5,301 198.8,296 198,296.5 197,297 196.2,300.5 195,302 193.5,306 192,309 190.5,311.5 189,315 187.5,321.5 185.5,322 183.5,321 181.5,321.5 180,320 178.5,316 177,315 175.5,317 174,318 173,322 172.2,325 171.5,323 170.5,318 169.5,311 168.5,308 167.5,307 166.8,303.5" fill="#d07a96" fill-opacity="0.25"/>
<polyline points="166.8,299.5 167.5,303 168.5,304 169.5,307 170.5,314 171.5,319 172.2,321 173,318 174,314 175.5,313 177,311 178.5,312 180,316 181.5,317.5 183.5,317 185.5,316 187.5,315.5 189,309 190.5,305.5 192,303 193.5,300 195,296 196.2,291.5 197,288 198,287.5 198.8,287 199.5,292 200.2,298 201.5,300.5 203.5,301.5 205.5,303 207,301 209,302 211,302.5 212,303 214,302.8 216,301.5 218,296.8 220,296.5 222,298.5 224,302 226,303.5 228,303.5 229.5,301.5 231,300.5 232.5,299 234,298.8 235.5,301.5 237,303.5 239,302.5 241,301 243,299.5 245,299.2 247,301.5 249,304.5 251,305 253,306 255,307 257,308 259.2,309.8" fill="none" stroke="#b24b72" stroke-width="1.4" stroke-linejoin="round" stroke-linecap="round"/>
<polyline points="166.8,287.5 167.5,288.5 168.5,293 169.5,299 170.2,305 171,311 171.8,313 172.8,309.5 174,307 175.5,306.5 177,307 178.5,310 180,312 181.5,313 183.5,312.5 185.5,311 187.5,309 189.5,305.5 191.5,306.5 193.5,307 195.5,305.8 197.5,305.5 199.5,305 201.5,304.5 203.5,303 205.5,302 207,300.5 209,301 211,299.5 212,298.5 213.8,295.5 215.5,297 217.5,300 220,303 222,299.5 224,298.5 226.5,298.2 229,298.5 231,298.8 232.5,300 234,301 236,299.5 238,297.5 240,296.2 242.5,296.5 244.8,296 246.5,298 248.5,300.5 251,300.5 252.5,304 254,308.5 255.5,309 257,307 258,306.5 259.2,308.5" fill="none" stroke="#3a4592" stroke-width="1.4" stroke-linejoin="round" stroke-linecap="round"/>
<line x1="166.6" y1="271.8" x2="166.6" y2="333.7" stroke="#7a7a7a" stroke-width="0.8"/>
<line x1="166.6" y1="333.7" x2="259.4" y2="333.7" stroke="#7a7a7a" stroke-width="0.8"/>
<line x1="164.4" y1="285.3" x2="166.6" y2="285.3" stroke="#7a7a7a" stroke-width="0.7"/>
<text x="161" y="288" font-size="7.5" text-anchor="end" fill="#333">4</text>
<line x1="164.4" y1="309.5" x2="166.6" y2="309.5" stroke="#7a7a7a" stroke-width="0.7"/>
<text x="161" y="312.2" font-size="7.5" text-anchor="end" fill="#333">3</text>
<line x1="164.4" y1="333.6" x2="166.6" y2="333.6" stroke="#7a7a7a" stroke-width="0.7"/>
<text x="161" y="336.3" font-size="7.5" text-anchor="end" fill="#333">2</text>
<line x1="172.3" y1="333.7" x2="172.3" y2="337.1" stroke="#7a7a7a" stroke-width="0.75"/>
<line x1="197.5" y1="333.7" x2="197.5" y2="337.1" stroke="#7a7a7a" stroke-width="0.75"/>
<line x1="222.4" y1="333.7" x2="222.4" y2="337.1" stroke="#7a7a7a" stroke-width="0.75"/>
<line x1="246.6" y1="333.7" x2="246.6" y2="337.1" stroke="#7a7a7a" stroke-width="0.75"/>
<text x="172.3" y="346" font-size="7.7" text-anchor="middle" fill="#333" textLength="5.2" lengthAdjust="spacingAndGlyphs">0</text>
<text x="197.5" y="346" font-size="7.7" text-anchor="middle" fill="#333" textLength="5.2" lengthAdjust="spacingAndGlyphs">2</text>
<text x="222.4" y="346" font-size="7.7" text-anchor="middle" fill="#333" textLength="5.2" lengthAdjust="spacingAndGlyphs">4</text>
<text x="246.6" y="346" font-size="7.7" text-anchor="middle" fill="#333" textLength="5.2" lengthAdjust="spacingAndGlyphs">6</text>
<text x="216" y="265.6" font-size="9.2" text-anchor="middle" textLength="74.5" lengthAdjust="spacingAndGlyphs">Averaging all mice</text>
<text x="161.4" y="358" font-size="9.2" textLength="111.6" lengthAdjust="spacingAndGlyphs">Time after third injection (h)</text>
<rect x="516.5" y="144.7" width="93.2" height="62" fill="#e7eef8"/>
<polygon points="516.6,166.7 518.6,162.7 520.3,164.3 521.1,160.3 521.5,165.9 522.3,157.9 524,158.7 525.9,160.3 528.3,161.9 531.5,161.9 533.9,163.5 536.3,165.9 538.7,164.3 541.1,160.3 543.5,159.5 546,159.97 548.4,160.48 551.6,162.12 554.8,163.47 558,165.61 561.2,168.4 564.4,169.05 567.6,167.89 570,163.3 572.4,160.41 574.9,161.31 578.1,164.25 581.3,168.8 584.5,174.24 587.7,178.7 590.9,177.4 594.1,178.7 597.3,177.4 600.6,170.28 603.8,164.04 607,167.4 609.7,173.81 609.7,186.39 607,181.6 603.8,180.16 600.6,188.32 597.3,195.8 594.1,197.1 590.9,195.8 587.7,197.1 584.5,192.56 581.3,186.6 578.1,181.55 574.9,178.09 572.4,176.79 570,179.3 567.6,183.51 564.4,184.15 561.2,183 558,178.59 554.8,174.33 551.6,170.88 548.4,167.12 546,165.03 543.5,163.9 541.1,164.7 538.7,168.7 536.3,170.3 533.9,167.9 531.5,166.3 528.3,166.3 525.9,164.7 524,163.1 522.3,162.3 521.5,170.3 521.1,164.7 520.3,168.7 518.6,167.1 516.6,171.1" fill="#5a64a8" fill-opacity="0.22"/>
<polygon points="516.6,164.7 518.6,154.3 521.1,150.2 522.7,147.8 524.3,149.4 526.7,155.9 529.1,159.9 531.5,160.7 533.9,154.3 535.5,150.7 537.9,151.9 541.1,155.1 544.3,156.7 547.6,157.5 550.8,157.8 554,156.2 557.2,155.55 560.4,154.24 562.8,157.05 566,158.14 569.2,157.13 573.3,157.47 576.5,159.66 579.7,159.9 583.7,159.4 586.1,162.1 589.3,162.6 593.3,162.1 597.3,161.8 601.4,161.5 604.6,162.1 607.8,163.4 609.7,162.6 609.7,173.6 607.8,174.4 604.6,173.1 601.4,172.5 597.3,172.8 593.3,173.1 589.3,173.6 586.1,173.1 583.7,170.4 579.7,170.9 576.5,170.14 573.3,166.93 569.2,165.27 566,165.26 562.8,163.15 560.4,159.56 557.2,159.85 554,159.8 550.8,161.4 547.6,161.1 544.3,160.3 541.1,158.7 537.9,155.5 535.5,154.3 533.9,157.9 531.5,164.3 529.1,163.5 526.7,159.5 524.3,153 522.7,151.4 521.1,153.8 518.6,157.9 516.6,168.3" fill="#d07a96" fill-opacity="0.25"/>
<polyline points="516.6,166.5 518.6,156.1 521.1,152 522.7,149.6 524.3,151.2 526.7,157.7 529.1,161.7 531.5,162.5 533.9,156.1 535.5,152.5 537.9,153.7 541.1,156.9 544.3,158.5 547.6,159.3 550.8,159.6 554,158 557.2,157.7 560.4,156.9 562.8,160.1 566,161.7 569.2,161.2 573.3,162.2 576.5,164.9 579.7,165.4 583.7,164.9 586.1,167.6 589.3,168.1 593.3,167.6 597.3,167.3 601.4,167 604.6,167.6 607.8,168.9 609.7,168.1" fill="none" stroke="#b24b72" stroke-width="1.4" stroke-linejoin="round" stroke-linecap="round"/>
<polyline points="516.6,168.9 518.6,164.9 520.3,166.5 521.1,162.5 521.5,168.1 522.3,160.1 524,160.9 525.9,162.5 528.3,164.1 531.5,164.1 533.9,165.7 536.3,168.1 538.7,166.5 541.1,162.5 543.5,161.7 546,162.5 548.4,163.8 551.6,166.5 554.8,168.9 558,172.1 561.2,175.7 564.4,176.6 567.6,175.7 570,171.3 572.4,168.6 574.9,169.7 578.1,172.9 581.3,177.7 584.5,183.4 587.7,187.9 590.9,186.6 594.1,187.9 597.3,186.6 600.6,179.3 603.8,172.1 607,174.5 609.7,180.1" fill="none" stroke="#3a4592" stroke-width="1.4" stroke-linejoin="round" stroke-linecap="round"/>
<line x1="516.5" y1="144.7" x2="516.5" y2="206.7" stroke="#7a7a7a" stroke-width="0.8"/>
<line x1="516.5" y1="206.7" x2="609.7" y2="206.7" stroke="#7a7a7a" stroke-width="0.8"/>
<line x1="514.3" y1="144.8" x2="516.5" y2="144.8" stroke="#7a7a7a" stroke-width="0.7"/>
<text x="510.9" y="147.5" font-size="7.5" text-anchor="end" fill="#333" textLength="8.5" lengthAdjust="spacingAndGlyphs">38</text>
<line x1="514.3" y1="157.2" x2="516.5" y2="157.2" stroke="#7a7a7a" stroke-width="0.7"/>
<text x="510.9" y="159.9" font-size="7.5" text-anchor="end" fill="#333" textLength="8.5" lengthAdjust="spacingAndGlyphs">37</text>
<line x1="514.3" y1="169.4" x2="516.5" y2="169.4" stroke="#7a7a7a" stroke-width="0.7"/>
<text x="510.9" y="172.1" font-size="7.5" text-anchor="end" fill="#333" textLength="8.5" lengthAdjust="spacingAndGlyphs">36</text>
<line x1="514.3" y1="182" x2="516.5" y2="182" stroke="#7a7a7a" stroke-width="0.7"/>
<text x="510.9" y="184.7" font-size="7.5" text-anchor="end" fill="#333" textLength="8.5" lengthAdjust="spacingAndGlyphs">35</text>
<line x1="514.3" y1="194.3" x2="516.5" y2="194.3" stroke="#7a7a7a" stroke-width="0.7"/>
<text x="510.9" y="197" font-size="7.5" text-anchor="end" fill="#333" textLength="8.5" lengthAdjust="spacingAndGlyphs">34</text>
<line x1="514.3" y1="206.5" x2="516.5" y2="206.5" stroke="#7a7a7a" stroke-width="0.7"/>
<text x="510.9" y="209.2" font-size="7.5" text-anchor="end" fill="#333" textLength="8.5" lengthAdjust="spacingAndGlyphs">33</text>
<line x1="522.7" y1="206.7" x2="522.7" y2="210.1" stroke="#7a7a7a" stroke-width="0.75"/>
<line x1="547.5" y1="206.7" x2="547.5" y2="210.1" stroke="#7a7a7a" stroke-width="0.75"/>
<line x1="572.6" y1="206.7" x2="572.6" y2="210.1" stroke="#7a7a7a" stroke-width="0.75"/>
<line x1="597" y1="206.7" x2="597" y2="210.1" stroke="#7a7a7a" stroke-width="0.75"/>
<text x="522.7" y="219" font-size="7.7" text-anchor="middle" fill="#333" textLength="5.2" lengthAdjust="spacingAndGlyphs">0</text>
<text x="547.5" y="219" font-size="7.7" text-anchor="middle" fill="#333" textLength="5.2" lengthAdjust="spacingAndGlyphs">2</text>
<text x="572.6" y="219" font-size="7.7" text-anchor="middle" fill="#333" textLength="5.2" lengthAdjust="spacingAndGlyphs">4</text>
<text x="597" y="219" font-size="7.7" text-anchor="middle" fill="#333" textLength="5.2" lengthAdjust="spacingAndGlyphs">6</text>
<text x="562" y="137.6" font-size="9.2" text-anchor="middle" textLength="74.5" lengthAdjust="spacingAndGlyphs">Averaging all mice</text>
<text x="501.4" y="229.9" font-size="9.2" textLength="111.6" lengthAdjust="spacingAndGlyphs">Time after third injection (h)</text>
<rect x="516.2" y="271.9" width="93.4" height="62" fill="#e7eef8"/>
<polygon points="516.4,283.94 517.9,281.96 519.4,280.68 520.9,280.17 522.4,279.52 523.9,279.92 525.4,279.75 526.9,280.12 528.4,280.45 529.9,280.35 531.4,280.85 532.9,281.18 534.4,281.29 535.9,281.6 537.4,281.57 538.9,281.95 540.4,282.16 541.9,282.9 543.4,283.13 544.9,283.65 546.4,284.29 547.9,284.65 549.4,285.12 550.9,285.33 552.4,285.74 553.9,286.14 555.4,286.35 556.9,286.58 558.4,286.93 559.9,287.06 561.4,286.89 562.9,286.87 564.4,286.73 565.9,286.51 567.4,286.43 568.9,286.49 570.4,286.51 571.9,286.71 573.4,287.03 574.9,287.44 576.4,288.11 577.9,289.16 579.4,289.93 580.9,290.05 582.4,290.19 583.9,290.38 585.4,289.48 586.9,288.73 588.4,287.57 589.9,286.58 591.4,286.11 592.9,286.83 594.4,287.42 595.9,288.43 597.4,288.96 598.9,289.58 600.4,290 601.9,290.8 603.4,290.44 604.9,290.37 606.4,289.94 607.9,289.68 609.4,289.21 609.4,301.61 607.9,302.08 606.4,302.34 604.9,302.77 603.4,302.84 601.9,303.2 600.4,302.4 598.9,301.98 597.4,301.36 595.9,300.83 594.4,299.82 592.9,299.23 591.4,298.51 589.9,298.98 588.4,299.97 586.9,301.13 585.4,301.88 583.9,302.78 582.4,302.59 580.9,302.45 579.4,302.33 577.9,301.56 576.4,300.51 574.9,299.84 573.4,299.43 571.9,299.11 570.4,298.91 568.9,298.89 567.4,298.83 565.9,298.91 564.4,299.13 562.9,299.17 561.4,298.83 559.9,298.64 558.4,298.15 556.9,297.44 555.4,296.85 553.9,296.28 552.4,295.52 550.9,294.75 549.4,294.18 547.9,293.35 546.4,292.63 544.9,291.63 543.4,290.75 541.9,290.16 540.4,289.06 538.9,288.49 537.4,287.75 535.9,287.42 534.4,286.75 532.9,286.28 531.4,285.59 529.9,284.75 528.4,284.85 526.9,284.52 525.4,284.15 523.9,284.32 522.4,283.92 520.9,284.57 519.4,285.08 517.9,286.36 516.4,288.34" fill="#5a64a8" fill-opacity="0.22"/>
<polygon points="516.4,278.85 517.3,278.98 518.2,279.09 519.1,279.23 520,279.24 520.9,279.4 521.8,279.13 522.7,279.39 523.6,279.7 524.5,279.71 525.4,279.94 526.3,279.75 527.2,280.02 528.1,280.05 529,280.3 529.9,280.44 530.8,280.34 531.7,280.55 532.6,280.7 533.5,281.1 534.4,281.19 535.3,281.09 536.2,281.49 537.1,281.38 538,281.72 538.9,281.67 539.8,281.77 540.7,282.33 541.6,282.3 542.5,282.54 543.4,283.08 544.3,283.27 545.2,282.94 546.1,284.59 547,284.06 547.9,284.64 548.8,284 549.7,285.78 550.6,285.58 551.5,286.44 552.4,286.59 553.3,285.7 554.2,286.14 555.1,286.07 556,286.4 556.9,286.61 557.8,287.45 558.7,288.43 559.6,287.6 560.5,289.31 561.4,289 562.3,289.31 563.2,290.7 564.1,290.39 565,290.52 565.9,291.41 566.8,292.42 567.7,291.69 568.6,294.09 569.5,292.75 570.4,294.75 571.3,295.51 572.2,294.41 573.1,296.52 574,296.24 574.9,297.05 575.8,296.15 576.7,296.47 577.6,296.98 578.5,298.76 579.4,297.49 580.3,298.85 581.2,299.5 582.1,299.85 583,298.27 583.9,297.81 584.8,298.26 585.7,299.04 586.6,297.98 587.5,299.54 588.4,299.91 589.3,300.4 590.2,299.28 591.1,301.63 592,300.46 592.9,301.49 593.8,302.56 594.7,303.7 595.6,303.06 596.5,304.75 597.4,304.51 598.3,304.56 599.2,305.09 600.1,305.31 601,305.57 601.9,306.17 602.8,307.7 603.7,308.78 604.6,307.56 605.5,307.8 606.4,310.02 607.3,309.44 608.2,309.51 609.1,309.5 609.1,319.1 608.2,319.11 607.3,319.04 606.4,319.62 605.5,317.4 604.6,317.16 603.7,318.38 602.8,317.3 601.9,315.77 601,315.17 600.1,314.91 599.2,314.69 598.3,314.16 597.4,314.11 596.5,314.35 595.6,312.66 594.7,313.3 593.8,312.16 592.9,311.09 592,310.06 591.1,311.23 590.2,308.88 589.3,310 588.4,309.51 587.5,309.14 586.6,307.58 585.7,308.64 584.8,307.86 583.9,307.41 583,307.87 582.1,309.45 581.2,309.1 580.3,308.41 579.4,306.89 578.5,308 577.6,306.04 576.7,305.37 575.8,304.89 574.9,305.63 574,304.66 573.1,304.78 572.2,302.51 571.3,303.45 570.4,302.53 569.5,300.36 568.6,301.53 567.7,298.97 566.8,299.54 565.9,298.37 565,297.32 564.1,297.03 563.2,297.18 562.3,295.63 561.4,295.16 560.5,295.31 559.6,293.42 558.7,294.09 557.8,292.95 556.9,291.95 556,291.58 555.1,291.09 554.2,291 553.3,290.4 552.4,291.13 551.5,290.81 550.6,289.78 549.7,289.82 548.8,287.88 547.9,288.36 547,287.62 546.1,287.99 545.2,286.18 544.3,286.47 543.4,286.28 542.5,285.74 541.6,285.5 540.7,285.53 539.8,284.97 538.9,284.87 538,284.92 537.1,284.58 536.2,284.69 535.3,284.29 534.4,284.39 533.5,284.3 532.6,283.9 531.7,283.75 530.8,283.54 529.9,283.64 529,283.5 528.1,283.25 527.2,283.22 526.3,282.95 525.4,283.14 524.5,282.91 523.6,282.9 522.7,282.59 521.8,282.33 520.9,282.6 520,282.44 519.1,282.43 518.2,282.29 517.3,282.18 516.4,282.05" fill="#d07a96" fill-opacity="0.25"/>
<polyline points="516.4,280.45 517.3,280.58 518.2,280.69 519.1,280.83 520,280.84 520.9,281 521.8,280.73 522.7,280.99 523.6,281.3 524.5,281.31 525.4,281.54 526.3,281.35 527.2,281.62 528.1,281.65 529,281.9 529.9,282.04 530.8,281.94 531.7,282.15 532.6,282.3 533.5,282.7 534.4,282.79 535.3,282.69 536.2,283.09 537.1,282.98 538,283.32 538.9,283.27 539.8,283.37 540.7,283.93 541.6,283.9 542.5,284.14 543.4,284.68 544.3,284.87 545.2,284.56 546.1,286.29 547,285.84 547.9,286.5 548.8,285.94 549.7,287.8 550.6,287.68 551.5,288.62 552.4,288.86 553.3,288.05 554.2,288.57 555.1,288.58 556,288.99 556.9,289.28 557.8,290.2 558.7,291.26 559.6,290.51 560.5,292.31 561.4,292.08 562.3,292.47 563.2,293.94 564.1,293.71 565,293.92 565.9,294.89 566.8,295.98 567.7,295.33 568.6,297.81 569.5,296.55 570.4,298.64 571.3,299.48 572.2,298.46 573.1,300.65 574,300.45 574.9,301.34 575.8,300.52 576.7,300.92 577.6,301.51 578.5,303.38 579.4,302.19 580.3,303.63 581.2,304.3 582.1,304.65 583,303.07 583.9,302.61 584.8,303.06 585.7,303.84 586.6,302.78 587.5,304.34 588.4,304.71 589.3,305.2 590.2,304.08 591.1,306.43 592,305.26 592.9,306.29 593.8,307.36 594.7,308.5 595.6,307.86 596.5,309.55 597.4,309.31 598.3,309.36 599.2,309.89 600.1,310.11 601,310.37 601.9,310.97 602.8,312.5 603.7,313.58 604.6,312.36 605.5,312.6 606.4,314.82 607.3,314.24 608.2,314.31 609.1,314.3" fill="none" stroke="#b24b72" stroke-width="1.4" stroke-linejoin="round" stroke-linecap="round"/>
<polyline points="516.4,286.14 517.9,284.16 519.4,282.88 520.9,282.37 522.4,281.72 523.9,282.12 525.4,281.95 526.9,282.32 528.4,282.65 529.9,282.55 531.4,283.22 532.9,283.73 534.4,284.02 535.9,284.51 537.4,284.66 538.9,285.22 540.4,285.61 541.9,286.53 543.4,286.94 544.9,287.64 546.4,288.46 547.9,289 549.4,289.65 550.9,290.04 552.4,290.63 553.9,291.21 555.4,291.6 556.9,292.01 558.4,292.54 559.9,292.85 561.4,292.86 562.9,293.02 564.4,292.93 565.9,292.71 567.4,292.63 568.9,292.69 570.4,292.71 571.9,292.91 573.4,293.23 574.9,293.64 576.4,294.31 577.9,295.36 579.4,296.13 580.9,296.25 582.4,296.39 583.9,296.58 585.4,295.68 586.9,294.93 588.4,293.77 589.9,292.78 591.4,292.31 592.9,293.03 594.4,293.62 595.9,294.63 597.4,295.16 598.9,295.78 600.4,296.2 601.9,297 603.4,296.64 604.9,296.57 606.4,296.14 607.9,295.88 609.4,295.41" fill="none" stroke="#3a4592" stroke-width="1.4" stroke-linejoin="round" stroke-linecap="round"/>
<line x1="516.2" y1="271.9" x2="516.2" y2="333.9" stroke="#7a7a7a" stroke-width="0.8"/>
<line x1="516.2" y1="333.9" x2="609.6" y2="333.9" stroke="#7a7a7a" stroke-width="0.8"/>
<line x1="514" y1="271.9" x2="516.2" y2="271.9" stroke="#7a7a7a" stroke-width="0.7"/>
<text x="510.6" y="274.6" font-size="7.5" text-anchor="end" fill="#333" textLength="8.5" lengthAdjust="spacingAndGlyphs">40</text>
<line x1="514" y1="287.5" x2="516.2" y2="287.5" stroke="#7a7a7a" stroke-width="0.7"/>
<text x="510.6" y="290.2" font-size="7.5" text-anchor="end" fill="#333" textLength="8.5" lengthAdjust="spacingAndGlyphs">35</text>
<line x1="514" y1="302.8" x2="516.2" y2="302.8" stroke="#7a7a7a" stroke-width="0.7"/>
<text x="510.6" y="305.5" font-size="7.5" text-anchor="end" fill="#333" textLength="8.5" lengthAdjust="spacingAndGlyphs">30</text>
<line x1="514" y1="318.3" x2="516.2" y2="318.3" stroke="#7a7a7a" stroke-width="0.7"/>
<text x="510.6" y="321" font-size="7.5" text-anchor="end" fill="#333" textLength="8.5" lengthAdjust="spacingAndGlyphs">25</text>
<line x1="514" y1="333.6" x2="516.2" y2="333.6" stroke="#7a7a7a" stroke-width="0.7"/>
<text x="510.6" y="336.3" font-size="7.5" text-anchor="end" fill="#333" textLength="8.5" lengthAdjust="spacingAndGlyphs">20</text>
<line x1="522.2" y1="333.9" x2="522.2" y2="337.3" stroke="#7a7a7a" stroke-width="0.75"/>
<line x1="547.5" y1="333.9" x2="547.5" y2="337.3" stroke="#7a7a7a" stroke-width="0.75"/>
<line x1="572.6" y1="333.9" x2="572.6" y2="337.3" stroke="#7a7a7a" stroke-width="0.75"/>
<line x1="596.7" y1="333.9" x2="596.7" y2="337.3" stroke="#7a7a7a" stroke-width="0.75"/>
<text x="522.2" y="346.2" font-size="7.7" text-anchor="middle" fill="#333" textLength="5.2" lengthAdjust="spacingAndGlyphs">0</text>
<text x="547.5" y="346.2" font-size="7.7" text-anchor="middle" fill="#333" textLength="5.2" lengthAdjust="spacingAndGlyphs">2</text>
<text x="572.6" y="346.2" font-size="7.7" text-anchor="middle" fill="#333" textLength="5.2" lengthAdjust="spacingAndGlyphs">4</text>
<text x="596.7" y="346.2" font-size="7.7" text-anchor="middle" fill="#333" textLength="5.2" lengthAdjust="spacingAndGlyphs">6</text>
<text x="562" y="265.6" font-size="9.2" text-anchor="middle" textLength="74.5" lengthAdjust="spacingAndGlyphs">Averaging all mice</text>
<text x="505.7" y="359.1" font-size="9.2" textLength="111.8" lengthAdjust="spacingAndGlyphs">Time after third injection (h)</text>
<text x="0" y="0" font-size="9" text-anchor="middle" transform="translate(269.8,170.6) rotate(-90)" textLength="56.4" lengthAdjust="spacingAndGlyphs">VO<tspan font-size="6.6" dy="1.6">2</tspan><tspan dy="-1.6"> (l kg</tspan><tspan font-size="6.6" dy="-3.2">−1</tspan><tspan dy="3.2"> h</tspan><tspan font-size="6.6" dy="-3.2">−1</tspan><tspan dy="3.2">)</tspan></text>
<line x1="288.4" y1="131.8" x2="288.4" y2="207.3" stroke="#7a7a7a" stroke-width="0.8"/>
<line x1="288.4" y1="207.3" x2="325.4" y2="207.3" stroke="#7a7a7a" stroke-width="0.8"/>
<line x1="286.2" y1="203.4" x2="288.4" y2="203.4" stroke="#7a7a7a" stroke-width="0.7"/>
<text x="282.8" y="206.1" font-size="7.5" text-anchor="end" fill="#333">1</text>
<line x1="286.2" y1="185.4" x2="288.4" y2="185.4" stroke="#7a7a7a" stroke-width="0.7"/>
<text x="282.8" y="188.1" font-size="7.5" text-anchor="end" fill="#333">2</text>
<line x1="286.2" y1="167.5" x2="288.4" y2="167.5" stroke="#7a7a7a" stroke-width="0.7"/>
<text x="282.8" y="170.2" font-size="7.5" text-anchor="end" fill="#333">3</text>
<line x1="286.2" y1="149.5" x2="288.4" y2="149.5" stroke="#7a7a7a" stroke-width="0.7"/>
<text x="282.8" y="152.2" font-size="7.5" text-anchor="end" fill="#333">4</text>
<line x1="286.2" y1="131.8" x2="288.4" y2="131.8" stroke="#7a7a7a" stroke-width="0.7"/>
<text x="282.8" y="134.5" font-size="7.5" text-anchor="end" fill="#333">5</text>
<text x="296.8" y="217.9" font-size="8.6" text-anchor="middle" fill="#333">S</text>
<text x="316.8" y="217.9" font-size="8.6" text-anchor="middle" fill="#333" textLength="8.3" lengthAdjust="spacingAndGlyphs">LL</text>
<circle cx="297.2" cy="145.9" r="2" fill="#3a4592"/>
<circle cx="300.2" cy="142.7" r="2" fill="#3a4592"/>
<circle cx="297.1" cy="159" r="2" fill="#3a4592"/>
<circle cx="300.2" cy="161.3" r="2" fill="#3a4592"/>
<circle cx="297.1" cy="164.4" r="2" fill="#3a4592"/>
<circle cx="294.4" cy="168.9" r="2" fill="#3a4592"/>
<circle cx="297.7" cy="171.3" r="2" fill="#3a4592"/>
<circle cx="295.3" cy="174" r="2" fill="#3a4592"/>
<circle cx="294.4" cy="176.5" r="2" fill="#3a4592"/>
<circle cx="300.8" cy="177.6" r="2" fill="#3a4592"/>
<circle cx="297.1" cy="177.6" r="2" fill="#3a4592"/>
<circle cx="296.2" cy="185.2" r="2" fill="#3a4592"/>
<circle cx="297.1" cy="180.1" r="2" fill="#3a4592"/>
<circle cx="316.2" cy="140.8" r="2" fill="#b24b72"/>
<circle cx="318.9" cy="145.4" r="2" fill="#b24b72"/>
<circle cx="313.4" cy="147.2" r="2" fill="#b24b72"/>
<circle cx="316.2" cy="148" r="2" fill="#b24b72"/>
<circle cx="318" cy="150.8" r="2" fill="#b24b72"/>
<circle cx="314.7" cy="153.5" r="2" fill="#b24b72"/>
<circle cx="317" cy="157.1" r="2" fill="#b24b72"/>
<circle cx="315.3" cy="160.8" r="2" fill="#b24b72"/>
<circle cx="316.2" cy="163.5" r="2" fill="#b24b72"/>
<circle cx="314.3" cy="164.4" r="2" fill="#b24b72"/>
<circle cx="316.5" cy="174.3" r="2" fill="#b24b72"/>
<line x1="292.3" y1="167.5" x2="301.3" y2="167.5" stroke="#000" stroke-width="1.1"/>
<line x1="312.3" y1="154" x2="321.3" y2="154" stroke="#000" stroke-width="1.1"/>
<path d="M297.1,134.5 V131.8 H316.2 V134.5" fill="none" stroke="#777" stroke-width="0.7"/>
<text x="306.65" y="132.7" font-size="11.5" text-anchor="middle">**</text>
<text x="0" y="0" font-size="9" text-anchor="middle" transform="translate(274,297.9) rotate(-90)" textLength="59" lengthAdjust="spacingAndGlyphs">VO<tspan font-size="6.6" dy="1.6">2</tspan><tspan dy="-1.6"> (l kg</tspan><tspan font-size="6.6" dy="-3.2">−1</tspan><tspan dy="3.2"> h</tspan><tspan font-size="6.6" dy="-3.2">−1</tspan><tspan dy="3.2">)</tspan></text>
<line x1="288.1" y1="259.6" x2="288.1" y2="334.5" stroke="#7a7a7a" stroke-width="0.8"/>
<line x1="288.1" y1="334.5" x2="325.4" y2="334.5" stroke="#7a7a7a" stroke-width="0.8"/>
<line x1="285.9" y1="330.8" x2="288.1" y2="330.8" stroke="#7a7a7a" stroke-width="0.7"/>
<text x="282.5" y="333.5" font-size="7.5" text-anchor="end" fill="#333">1</text>
<line x1="285.9" y1="313.1" x2="288.1" y2="313.1" stroke="#7a7a7a" stroke-width="0.7"/>
<text x="282.5" y="315.8" font-size="7.5" text-anchor="end" fill="#333">2</text>
<line x1="285.9" y1="294.6" x2="288.1" y2="294.6" stroke="#7a7a7a" stroke-width="0.7"/>
<text x="282.5" y="297.3" font-size="7.5" text-anchor="end" fill="#333">3</text>
<line x1="285.9" y1="276.7" x2="288.1" y2="276.7" stroke="#7a7a7a" stroke-width="0.7"/>
<text x="282.5" y="279.4" font-size="7.5" text-anchor="end" fill="#333">4</text>
<line x1="285.9" y1="259.6" x2="288.1" y2="259.6" stroke="#7a7a7a" stroke-width="0.7"/>
<text x="282.5" y="262.3" font-size="7.5" text-anchor="end" fill="#333">5</text>
<text x="296.8" y="345.1" font-size="8.6" text-anchor="middle" fill="#333">S</text>
<text x="316.8" y="345.1" font-size="8.6" text-anchor="middle" fill="#333" textLength="8.3" lengthAdjust="spacingAndGlyphs">LL</text>
<line x1="296.8" y1="284" x2="296.8" y2="295" stroke="#3a4592" stroke-width="0.7"/>
<line x1="295.2" y1="284" x2="298.4" y2="284" stroke="#3a4592" stroke-width="0.7"/>
<line x1="295.2" y1="295" x2="298.4" y2="295" stroke="#3a4592" stroke-width="0.7"/>
<line x1="316.8" y1="282.1" x2="316.8" y2="291.2" stroke="#b24b72" stroke-width="0.7"/>
<line x1="315.2" y1="282.1" x2="318.4" y2="282.1" stroke="#b24b72" stroke-width="0.7"/>
<line x1="315.2" y1="291.2" x2="318.4" y2="291.2" stroke="#b24b72" stroke-width="0.7"/>
<circle cx="297.4" cy="265" r="2" fill="#3a4592"/>
<circle cx="297.4" cy="271.7" r="2" fill="#3a4592"/>
<circle cx="294.2" cy="280.2" r="2" fill="#3a4592"/>
<circle cx="300.2" cy="280.2" r="2" fill="#3a4592"/>
<circle cx="295.1" cy="289" r="2" fill="#3a4592"/>
<circle cx="300.2" cy="289" r="2" fill="#3a4592"/>
<circle cx="297.4" cy="293.1" r="2" fill="#3a4592"/>
<circle cx="294.2" cy="300.7" r="2" fill="#3a4592"/>
<circle cx="300.2" cy="300.7" r="2" fill="#3a4592"/>
<circle cx="297.4" cy="326.9" r="2" fill="#3a4592"/>
<circle cx="313.1" cy="268.5" r="2" fill="#b24b72"/>
<circle cx="319.2" cy="266" r="2" fill="#b24b72"/>
<circle cx="316" cy="277" r="2" fill="#b24b72"/>
<circle cx="313.5" cy="286.5" r="2" fill="#b24b72"/>
<circle cx="319.2" cy="287.4" r="2" fill="#b24b72"/>
<circle cx="316" cy="290.3" r="2" fill="#b24b72"/>
<circle cx="313.5" cy="297" r="2" fill="#b24b72"/>
<circle cx="319.2" cy="293.5" r="2" fill="#b24b72"/>
<circle cx="313.5" cy="301.7" r="2" fill="#b24b72"/>
<circle cx="319.2" cy="301.7" r="2" fill="#b24b72"/>
<line x1="292.3" y1="289.7" x2="301.3" y2="289.7" stroke="#000" stroke-width="1.1"/>
<line x1="312.3" y1="286.5" x2="321.3" y2="286.5" stroke="#000" stroke-width="1.1"/>
<path d="M297.1,259.1 V256.4 H316.2 V259.1" fill="none" stroke="#777" stroke-width="0.7"/>
<text x="306.65" y="254.2" font-size="8.6" text-anchor="middle" textLength="12.5" lengthAdjust="spacingAndGlyphs">NS</text>
<text x="0" y="0" font-size="9.2"></text>
<text x="0" y="0" font-size="9" text-anchor="middle" transform="translate(625.1,169.2) rotate(-90)" textLength="25" lengthAdjust="spacingAndGlyphs"><tspan font-style="italic">T</tspan><tspan font-size="6.6" dy="1.6">b</tspan><tspan dy="-1.6"> (°C)</tspan></text>
<line x1="646" y1="132" x2="646" y2="206.9" stroke="#7a7a7a" stroke-width="0.8"/>
<line x1="646" y1="206.9" x2="683.8" y2="206.9" stroke="#7a7a7a" stroke-width="0.8"/>
<line x1="643.8" y1="206.9" x2="646" y2="206.9" stroke="#7a7a7a" stroke-width="0.7"/>
<text x="640.4" y="209.6" font-size="7.5" text-anchor="end" fill="#333" textLength="8.5" lengthAdjust="spacingAndGlyphs">34</text>
<line x1="643.8" y1="188.4" x2="646" y2="188.4" stroke="#7a7a7a" stroke-width="0.7"/>
<text x="640.4" y="191.1" font-size="7.5" text-anchor="end" fill="#333" textLength="8.5" lengthAdjust="spacingAndGlyphs">35</text>
<line x1="643.8" y1="169.6" x2="646" y2="169.6" stroke="#7a7a7a" stroke-width="0.7"/>
<text x="640.4" y="172.3" font-size="7.5" text-anchor="end" fill="#333" textLength="8.5" lengthAdjust="spacingAndGlyphs">36</text>
<line x1="643.8" y1="150.5" x2="646" y2="150.5" stroke="#7a7a7a" stroke-width="0.7"/>
<text x="640.4" y="153.2" font-size="7.5" text-anchor="end" fill="#333" textLength="8.5" lengthAdjust="spacingAndGlyphs">37</text>
<line x1="643.8" y1="132" x2="646" y2="132" stroke="#7a7a7a" stroke-width="0.7"/>
<text x="640.4" y="134.7" font-size="7.5" text-anchor="end" fill="#333" textLength="8.5" lengthAdjust="spacingAndGlyphs">38</text>
<text x="657.4" y="217.5" font-size="8.6" text-anchor="middle" fill="#333">S</text>
<text x="674.5" y="217.5" font-size="8.6" text-anchor="middle" fill="#333" textLength="8.3" lengthAdjust="spacingAndGlyphs">LL</text>
<line x1="657.4" y1="163.4" x2="657.4" y2="171.9" stroke="#3a4592" stroke-width="0.7"/>
<line x1="655.8" y1="163.4" x2="659" y2="163.4" stroke="#3a4592" stroke-width="0.7"/>
<line x1="655.8" y1="171.9" x2="659" y2="171.9" stroke="#3a4592" stroke-width="0.7"/>
<line x1="674.5" y1="150.5" x2="674.5" y2="156.3" stroke="#b24b72" stroke-width="0.7"/>
<line x1="672.9" y1="150.5" x2="676.1" y2="150.5" stroke="#b24b72" stroke-width="0.7"/>
<line x1="672.9" y1="156.3" x2="676.1" y2="156.3" stroke="#b24b72" stroke-width="0.7"/>
<circle cx="656.5" cy="152" r="2" fill="#3a4592"/>
<circle cx="653.7" cy="157.7" r="2" fill="#3a4592"/>
<circle cx="660.8" cy="156.8" r="2" fill="#3a4592"/>
<circle cx="658" cy="164.2" r="2" fill="#3a4592"/>
<circle cx="653.7" cy="173.3" r="2" fill="#3a4592"/>
<circle cx="660.8" cy="177.6" r="2" fill="#3a4592"/>
<circle cx="657.1" cy="186.7" r="2" fill="#3a4592"/>
<circle cx="672.7" cy="142" r="2" fill="#b24b72"/>
<circle cx="669.3" cy="146.3" r="2" fill="#b24b72"/>
<circle cx="676.5" cy="147.7" r="2" fill="#b24b72"/>
<circle cx="669.9" cy="152" r="2" fill="#b24b72"/>
<circle cx="675.6" cy="152" r="2" fill="#b24b72"/>
<circle cx="669.3" cy="157.7" r="2" fill="#b24b72"/>
<circle cx="672.7" cy="165.3" r="2" fill="#b24b72"/>
<line x1="652.9" y1="167" x2="661.9" y2="167" stroke="#000" stroke-width="1.1"/>
<line x1="670" y1="153.4" x2="679" y2="153.4" stroke="#000" stroke-width="1.1"/>
<path d="M657.4,134.2 V131.5 H672.7 V134.2" fill="none" stroke="#777" stroke-width="0.7"/>
<text x="665.05" y="132.4" font-size="11.5" text-anchor="middle">*</text>
<text x="0" y="0" font-size="9" text-anchor="middle" transform="translate(625.1,296.8) rotate(-90)" textLength="26" lengthAdjust="spacingAndGlyphs"><tspan font-style="italic">T</tspan><tspan font-size="6.6" dy="1.6">b</tspan><tspan dy="-1.6"> (°C)</tspan></text>
<line x1="646.6" y1="257" x2="646.6" y2="333.9" stroke="#7a7a7a" stroke-width="0.8"/>
<line x1="646.6" y1="333.9" x2="683.8" y2="333.9" stroke="#7a7a7a" stroke-width="0.8"/>
<line x1="644.4" y1="326.8" x2="646.6" y2="326.8" stroke="#7a7a7a" stroke-width="0.7"/>
<text x="641" y="329.5" font-size="7.5" text-anchor="end" fill="#333" textLength="8.5" lengthAdjust="spacingAndGlyphs">28</text>
<line x1="644.4" y1="313.1" x2="646.6" y2="313.1" stroke="#7a7a7a" stroke-width="0.7"/>
<text x="641" y="315.8" font-size="7.5" text-anchor="end" fill="#333" textLength="8.5" lengthAdjust="spacingAndGlyphs">30</text>
<line x1="644.4" y1="299.5" x2="646.6" y2="299.5" stroke="#7a7a7a" stroke-width="0.7"/>
<text x="641" y="302.2" font-size="7.5" text-anchor="end" fill="#333" textLength="8.5" lengthAdjust="spacingAndGlyphs">32</text>
<line x1="644.4" y1="286.1" x2="646.6" y2="286.1" stroke="#7a7a7a" stroke-width="0.7"/>
<text x="641" y="288.8" font-size="7.5" text-anchor="end" fill="#333" textLength="8.5" lengthAdjust="spacingAndGlyphs">34</text>
<line x1="644.4" y1="272.4" x2="646.6" y2="272.4" stroke="#7a7a7a" stroke-width="0.7"/>
<text x="641" y="275.1" font-size="7.5" text-anchor="end" fill="#333" textLength="8.5" lengthAdjust="spacingAndGlyphs">36</text>
<line x1="644.4" y1="259" x2="646.6" y2="259" stroke="#7a7a7a" stroke-width="0.7"/>
<text x="641" y="261.7" font-size="7.5" text-anchor="end" fill="#333" textLength="8.5" lengthAdjust="spacingAndGlyphs">38</text>
<text x="657.4" y="344.5" font-size="8.6" text-anchor="middle" fill="#333">S</text>
<text x="674.5" y="344.5" font-size="8.6" text-anchor="middle" fill="#333" textLength="8.3" lengthAdjust="spacingAndGlyphs">LL</text>
<line x1="657.4" y1="276.1" x2="657.4" y2="296" stroke="#3a4592" stroke-width="0.7"/>
<line x1="655.8" y1="276.1" x2="659" y2="276.1" stroke="#3a4592" stroke-width="0.7"/>
<line x1="655.8" y1="296" x2="659" y2="296" stroke="#3a4592" stroke-width="0.7"/>
<line x1="674.5" y1="271.9" x2="674.5" y2="290.4" stroke="#b24b72" stroke-width="0.7"/>
<line x1="672.9" y1="271.9" x2="676.1" y2="271.9" stroke="#b24b72" stroke-width="0.7"/>
<line x1="672.9" y1="290.4" x2="676.1" y2="290.4" stroke="#b24b72" stroke-width="0.7"/>
<circle cx="657.4" cy="259" r="2" fill="#3a4592"/>
<circle cx="654.2" cy="271.3" r="2" fill="#3a4592"/>
<circle cx="660.8" cy="274.1" r="2" fill="#3a4592"/>
<circle cx="657.1" cy="288.4" r="2" fill="#3a4592"/>
<circle cx="657.4" cy="298" r="2" fill="#3a4592"/>
<circle cx="657.4" cy="326.8" r="2" fill="#3a4592"/>
<circle cx="673.6" cy="259" r="2" fill="#b24b72"/>
<circle cx="673.6" cy="262.7" r="2" fill="#b24b72"/>
<circle cx="673" cy="269" r="2" fill="#b24b72"/>
<circle cx="673" cy="282.7" r="2" fill="#b24b72"/>
<circle cx="673" cy="297.5" r="2" fill="#b24b72"/>
<circle cx="673.6" cy="316" r="2" fill="#b24b72"/>
<line x1="652.9" y1="286.1" x2="661.9" y2="286.1" stroke="#000" stroke-width="1.1"/>
<line x1="670" y1="281.8" x2="679" y2="281.8" stroke="#000" stroke-width="1.1"/>
<path d="M657.4,254.7 V252 H673.6 V254.7" fill="none" stroke="#777" stroke-width="0.7"/>
<text x="665.5" y="249.8" font-size="8.6" text-anchor="middle" textLength="12.5" lengthAdjust="spacingAndGlyphs">NS</text>
<rect x="17.5" y="378" width="313.3" height="78.7" fill="#f0f0f0"/>
<text x="42.9" y="398.4" font-size="8.9" fill="#231f20" textLength="57" lengthAdjust="spacingAndGlyphs">WT/<tspan font-style="italic">Gpr50</tspan>-KO</text>
<use href="#mouse" x="20" y="400"/>
<text x="104.6" y="414.4" font-size="8.7" textLength="50.8" lengthAdjust="spacingAndGlyphs">Saline/L-LEN</text>
<line x1="107.6" y1="418.2" x2="107.6" y2="425.8" stroke="#000" stroke-width="0.85"/>
<polygon points="106,425.5 109.2,425.5 107.6,428.9" fill="#000"/>
<line x1="130.6" y1="418.2" x2="130.6" y2="425.8" stroke="#000" stroke-width="0.85"/>
<polygon points="129,425.5 132.2,425.5 130.6,428.9" fill="#000"/>
<line x1="153.2" y1="418.2" x2="153.2" y2="425.8" stroke="#000" stroke-width="0.85"/>
<polygon points="151.6,425.5 154.8,425.5 153.2,428.9" fill="#000"/>
<line x1="75.7" y1="431.3" x2="182" y2="431.3" stroke="#000" stroke-width="1.3"/>
<polygon points="181,428.9 185.3,431.3 181,433.7" fill="#111"/>
<text x="111.6" y="441.9" font-size="8.6" textLength="35.8" lengthAdjust="spacingAndGlyphs">Fast 36 h</text>
<text x="211.2" y="415" font-size="8.9" textLength="95.1" lengthAdjust="spacingAndGlyphs">Detect blood hormones</text>
<g transform="translate(209.7,443.1) rotate(-20)"><path d="M0.3,0 C1.5,-2.5 5,-3.7 8.5,-3.7 L48.5,-3.7 L48.5,3.7 L8.5,3.7 C5,3.7 1.5,2.5 0.3,0 Z" fill="#f7f7f7" stroke="#6a6a6a" stroke-width="0.55"/><path d="M1,0 C2.2,-2.1 5,-3.2 8.5,-3.2 L19.5,-3.2 L19.5,3.2 L8.5,3.2 C5,3.2 2.2,2.1 1,0 Z" fill="#6b0a14"/><rect x="19.5" y="-3.2" width="19" height="6.4" fill="#e0b534"/><path d="M22,-3.2 L24,3.2 M26,-3.2 L28,3.2 M30,-3.2 L32,3.2 M34,-3.2 L36,3.2" stroke="#c99a20" stroke-width="0.4"/><path d="M39.5,-3.2 L42.5,3.2 M42.5,-3.2 L45.5,3.2 M45.5,-3.2 L48.2,2.6" stroke="#c8c8c8" stroke-width="0.6"/><rect x="47.6" y="-4.9" width="10.4" height="9.8" rx="1.8" fill="#e07a2c" stroke="#c8641c" stroke-width="0.5"/></g>
<rect x="348.9" y="377" width="313" height="78.8" fill="#f0f0f0"/>
<text x="382.1" y="398" font-size="8.9" fill="#231f20" textLength="57.2" lengthAdjust="spacingAndGlyphs">WT/<tspan font-style="italic">Gpr50</tspan>-KO</text>
<use href="#mouse" x="354.3" y="398.3"/>
<text x="447.4" y="413.9" font-size="8.7" textLength="50.8" lengthAdjust="spacingAndGlyphs">Saline/L-LEN</text>
<line x1="450.5" y1="417" x2="450.5" y2="425.1" stroke="#000" stroke-width="0.85"/>
<polygon points="448.9,424.8 452.1,424.8 450.5,428.2" fill="#000"/>
<line x1="472.9" y1="417" x2="472.9" y2="425.1" stroke="#000" stroke-width="0.85"/>
<polygon points="471.3,424.8 474.5,424.8 472.9,428.2" fill="#000"/>
<line x1="495.7" y1="417" x2="495.7" y2="425.1" stroke="#000" stroke-width="0.85"/>
<polygon points="494.1,424.8 497.3,424.8 495.7,428.2" fill="#000"/>
<line x1="418.6" y1="430.8" x2="524.5" y2="430.8" stroke="#000" stroke-width="1.3"/>
<polygon points="523.5,428.4 527.8,430.8 523.5,433.2" fill="#111"/>
<text x="456.6" y="441.3" font-size="8.6" textLength="35.6" lengthAdjust="spacingAndGlyphs">Fast 36 h</text>
<text x="549.5" y="410.2" font-size="8.9" textLength="95.2" lengthAdjust="spacingAndGlyphs">Detect UCP1, NE in iBAT</text>
<path d="M588,416 C594,412 604,412 611,416 C617,420 619,428 617,436 C615,443 608,447.5 600,447.5 C592,447.5 585.5,443 583.5,436 C581.5,428 583,420 588,416 Z" fill="#f1dfa6"/>
<circle cx="590.1" cy="416.9" r="3" fill="#e5c472" stroke="#bf9748" stroke-width="0.5"/>
<circle cx="597.4" cy="416.9" r="3.25" fill="#e5c472" stroke="#bf9748" stroke-width="0.5"/>
<circle cx="603.5" cy="416.9" r="3.5" fill="#e5c472" stroke="#bf9748" stroke-width="0.5"/>
<circle cx="609.6" cy="416.9" r="3" fill="#e5c472" stroke="#bf9748" stroke-width="0.5"/>
<circle cx="587.6" cy="423" r="3.25" fill="#e5c472" stroke="#bf9748" stroke-width="0.5"/>
<circle cx="593.7" cy="423" r="3.5" fill="#e5c472" stroke="#bf9748" stroke-width="0.5"/>
<circle cx="599.8" cy="423" r="3" fill="#e5c472" stroke="#bf9748" stroke-width="0.5"/>
<circle cx="607.1" cy="423" r="3.25" fill="#e5c472" stroke="#bf9748" stroke-width="0.5"/>
<circle cx="613.2" cy="423" r="3.5" fill="#e5c472" stroke="#bf9748" stroke-width="0.5"/>
<circle cx="585.4" cy="429.1" r="3" fill="#e5c472" stroke="#bf9748" stroke-width="0.5"/>
<circle cx="592.7" cy="429.1" r="3.25" fill="#e5c472" stroke="#bf9748" stroke-width="0.5"/>
<circle cx="598.8" cy="429.1" r="3.5" fill="#e5c472" stroke="#bf9748" stroke-width="0.5"/>
<circle cx="604.9" cy="429.1" r="3" fill="#e5c472" stroke="#bf9748" stroke-width="0.5"/>
<circle cx="612.2" cy="429.1" r="3.25" fill="#e5c472" stroke="#bf9748" stroke-width="0.5"/>
<circle cx="587.5" cy="435.2" r="3.5" fill="#e5c472" stroke="#bf9748" stroke-width="0.5"/>
<circle cx="593.6" cy="435.2" r="3" fill="#e5c472" stroke="#bf9748" stroke-width="0.5"/>
<circle cx="600.9" cy="435.2" r="3.25" fill="#e5c472" stroke="#bf9748" stroke-width="0.5"/>
<circle cx="607" cy="435.2" r="3.5" fill="#e5c472" stroke="#bf9748" stroke-width="0.5"/>
<circle cx="613.1" cy="435.2" r="3" fill="#e5c472" stroke="#bf9748" stroke-width="0.5"/>
<circle cx="591.2" cy="441.3" r="3.25" fill="#e5c472" stroke="#bf9748" stroke-width="0.5"/>
<circle cx="597.3" cy="441.3" r="3.5" fill="#e5c472" stroke="#bf9748" stroke-width="0.5"/>
<circle cx="603.4" cy="441.3" r="3" fill="#e5c472" stroke="#bf9748" stroke-width="0.5"/>
<circle cx="610.7" cy="441.3" r="3.25" fill="#e5c472" stroke="#bf9748" stroke-width="0.5"/>
<circle cx="597" cy="445.8" r="2.4" fill="#e5c472" stroke="#bf9748" stroke-width="0.5"/>
<circle cx="604" cy="446" r="2.2" fill="#e5c472" stroke="#bf9748" stroke-width="0.5"/>
<line x1="32.5" y1="485.2" x2="32.5" y2="555.2" stroke="#7a7a7a" stroke-width="0.8"/>
<line x1="30.3" y1="485.2" x2="32.5" y2="485.2" stroke="#7a7a7a" stroke-width="0.7"/>
<text x="26.9" y="487.9" font-size="7.5" text-anchor="end" fill="#333" textLength="9.5" lengthAdjust="spacingAndGlyphs">2.5</text>
<line x1="30.3" y1="513.2" x2="32.5" y2="513.2" stroke="#7a7a7a" stroke-width="0.7"/>
<text x="26.9" y="515.9" font-size="7.5" text-anchor="end" fill="#333" textLength="9.5" lengthAdjust="spacingAndGlyphs">1.5</text>
<line x1="30.3" y1="541.2" x2="32.5" y2="541.2" stroke="#7a7a7a" stroke-width="0.7"/>
<text x="26.9" y="543.9" font-size="7.5" text-anchor="end" fill="#333" textLength="9.5" lengthAdjust="spacingAndGlyphs">0.5</text>
<line x1="32.5" y1="555.2" x2="105.6" y2="555.2" stroke="#7a7a7a" stroke-width="0.8"/>
<text x="39.4" y="565.1" font-size="8.6" text-anchor="middle" fill="#333">S</text>
<text x="55.6" y="565.1" font-size="8.6" text-anchor="middle" fill="#333" textLength="8.3" lengthAdjust="spacingAndGlyphs">LL</text>
<text x="81.9" y="565.1" font-size="8.6" text-anchor="middle" fill="#333">S</text>
<text x="98" y="565.1" font-size="8.6" text-anchor="middle" fill="#333" textLength="8.3" lengthAdjust="spacingAndGlyphs">LL</text>
<line x1="34.5" y1="568.2" x2="62.5" y2="568.2" stroke="#555" stroke-width="1.1"/>
<line x1="76.5" y1="568.2" x2="105.1" y2="568.2" stroke="#555" stroke-width="1.1"/>
<text x="48.5" y="579.6" font-size="8.6" text-anchor="middle" fill="#333" textLength="11" lengthAdjust="spacingAndGlyphs">WT</text>
<text x="91" y="579.6" font-size="8.6" text-anchor="middle" fill="#333" textLength="11.6" lengthAdjust="spacingAndGlyphs">KO</text>
<text x="0" y="0" font-size="9" text-anchor="middle" transform="translate(8,519) rotate(-90)" textLength="51.8" lengthAdjust="spacingAndGlyphs">TSH (ng ml<tspan font-size="6.6" dy="-3.2">−1</tspan><tspan dy="3.2">)</tspan></text>
<path d="M39.3,485.6 V482.6 H53.9 V485.6" fill="none" stroke="#777" stroke-width="0.7"/>
<text x="46.6" y="484.9" font-size="11.5" text-anchor="middle">*</text>
<path d="M81.7,485.6 V482.6 H96 V485.6" fill="none" stroke="#777" stroke-width="0.7"/>
<text x="88.85" y="480" font-size="8.6" text-anchor="middle" textLength="12" lengthAdjust="spacingAndGlyphs">NS</text>
<line x1="55.1" y1="510.6" x2="55.1" y2="521.5" stroke="#b24b72" stroke-width="0.7"/>
<line x1="53.6" y1="510.6" x2="56.6" y2="510.6" stroke="#b24b72" stroke-width="0.7"/>
<line x1="53.6" y1="521.5" x2="56.6" y2="521.5" stroke="#b24b72" stroke-width="0.7"/>
<line x1="51.5" y1="516.4" x2="58.7" y2="516.4" stroke="#000" stroke-width="1.05"/>
<circle cx="39.7" cy="521.5" r="2" fill="#3a4592"/>
<circle cx="39.7" cy="524.2" r="2" fill="#3a4592"/>
<circle cx="37.9" cy="530" r="2" fill="#3a4592"/>
<circle cx="39.7" cy="529.6" r="2" fill="#3a4592"/>
<circle cx="41.4" cy="530.5" r="2" fill="#3a4592"/>
<circle cx="37.3" cy="532" r="2" fill="#3a4592"/>
<circle cx="39.7" cy="532.3" r="2" fill="#3a4592"/>
<circle cx="39.1" cy="533.7" r="2" fill="#3a4592"/>
<circle cx="39.7" cy="536.7" r="2" fill="#3a4592"/>
<circle cx="52.5" cy="491.1" r="2" fill="#b24b72"/>
<circle cx="55.1" cy="491.1" r="2" fill="#b24b72"/>
<circle cx="55.4" cy="498.9" r="2" fill="#b24b72"/>
<circle cx="53.7" cy="502" r="2" fill="#b24b72"/>
<circle cx="53.9" cy="507.4" r="2" fill="#b24b72"/>
<circle cx="53.7" cy="518.3" r="2" fill="#b24b72"/>
<circle cx="53.1" cy="530.5" r="2" fill="#b24b72"/>
<circle cx="54.9" cy="531.6" r="2" fill="#b24b72"/>
<circle cx="52.8" cy="533.7" r="2" fill="#b24b72"/>
<circle cx="55.8" cy="534.9" r="2" fill="#b24b72"/>
<circle cx="51.9" cy="537" r="2" fill="#b24b72"/>
<line x1="36" y1="530.8" x2="43.2" y2="530.8" stroke="#000" stroke-width="1.05"/>
<line x1="79.4" y1="523.5" x2="85.4" y2="523.5" stroke="#000" stroke-width="1.05"/>
<line x1="93" y1="524.4" x2="99" y2="524.4" stroke="#000" stroke-width="1.05"/>
<circle cx="80" cy="519.1" r="2" fill="#3a4592"/>
<circle cx="83.8" cy="518.3" r="2" fill="#3a4592"/>
<circle cx="79.4" cy="523.5" r="2" fill="#3a4592"/>
<circle cx="82" cy="523.5" r="2" fill="#3a4592"/>
<circle cx="83.8" cy="525.6" r="2" fill="#3a4592"/>
<circle cx="80" cy="527.9" r="2" fill="#3a4592"/>
<circle cx="94" cy="518.8" r="2" fill="#b24b72"/>
<circle cx="95.8" cy="520.9" r="2" fill="#b24b72"/>
<circle cx="94" cy="522.6" r="2" fill="#b24b72"/>
<circle cx="97.9" cy="525" r="2" fill="#b24b72"/>
<circle cx="95.2" cy="527.3" r="2" fill="#b24b72"/>
<circle cx="95.8" cy="531.4" r="2" fill="#b24b72"/>
<line x1="79" y1="523.5" x2="86" y2="523.5" stroke="#111" stroke-width="0.9"/>
<line x1="92.5" y1="524.4" x2="99.5" y2="524.4" stroke="#111" stroke-width="0.9"/>
<line x1="138.4" y1="485.2" x2="138.4" y2="554.5" stroke="#7a7a7a" stroke-width="0.8"/>
<line x1="136.2" y1="485.2" x2="138.4" y2="485.2" stroke="#7a7a7a" stroke-width="0.7"/>
<text x="132.8" y="487.9" font-size="7.5" text-anchor="end" fill="#333" textLength="8.4" lengthAdjust="spacingAndGlyphs">50</text>
<line x1="136.2" y1="499" x2="138.4" y2="499" stroke="#7a7a7a" stroke-width="0.7"/>
<text x="132.8" y="501.7" font-size="7.5" text-anchor="end" fill="#333" textLength="8.4" lengthAdjust="spacingAndGlyphs">40</text>
<line x1="136.2" y1="512.8" x2="138.4" y2="512.8" stroke="#7a7a7a" stroke-width="0.7"/>
<text x="132.8" y="515.5" font-size="7.5" text-anchor="end" fill="#333" textLength="8.4" lengthAdjust="spacingAndGlyphs">30</text>
<line x1="136.2" y1="526.7" x2="138.4" y2="526.7" stroke="#7a7a7a" stroke-width="0.7"/>
<text x="132.8" y="529.4" font-size="7.5" text-anchor="end" fill="#333" textLength="8.4" lengthAdjust="spacingAndGlyphs">20</text>
<line x1="136.2" y1="540.6" x2="138.4" y2="540.6" stroke="#7a7a7a" stroke-width="0.7"/>
<text x="132.8" y="543.3" font-size="7.5" text-anchor="end" fill="#333" textLength="8.4" lengthAdjust="spacingAndGlyphs">10</text>
<line x1="136.2" y1="554.5" x2="138.4" y2="554.5" stroke="#7a7a7a" stroke-width="0.7"/>
<text x="132.8" y="557.2" font-size="7.5" text-anchor="end" fill="#333">0</text>
<line x1="138.4" y1="554.5" x2="208.4" y2="554.5" stroke="#7a7a7a" stroke-width="0.8"/>
<text x="145.3" y="565.1" font-size="8.6" text-anchor="middle" fill="#333">S</text>
<text x="160.6" y="565.1" font-size="8.6" text-anchor="middle" fill="#333" textLength="8.3" lengthAdjust="spacingAndGlyphs">LL</text>
<text x="187.9" y="565.1" font-size="8.6" text-anchor="middle" fill="#333">S</text>
<text x="203.7" y="565.1" font-size="8.6" text-anchor="middle" fill="#333" textLength="8.3" lengthAdjust="spacingAndGlyphs">LL</text>
<line x1="139.5" y1="568.2" x2="168.6" y2="568.2" stroke="#555" stroke-width="1.1"/>
<line x1="182.6" y1="568.2" x2="211" y2="568.2" stroke="#555" stroke-width="1.1"/>
<text x="154.6" y="579.6" font-size="8.6" text-anchor="middle" fill="#333" textLength="11" lengthAdjust="spacingAndGlyphs">WT</text>
<text x="196.8" y="579.6" font-size="8.6" text-anchor="middle" fill="#333" textLength="11.6" lengthAdjust="spacingAndGlyphs">KO</text>
<text x="0" y="0" font-size="9" text-anchor="middle" transform="translate(114.7,519) rotate(-90)" textLength="49" lengthAdjust="spacingAndGlyphs">fT4 (pg ml<tspan font-size="6.6" dy="-3.2">−1</tspan><tspan dy="3.2">)</tspan></text>
<path d="M145.5,485.6 V482.6 H159.3 V485.6" fill="none" stroke="#777" stroke-width="0.7"/>
<text x="152.4" y="484.9" font-size="11.5" text-anchor="middle">*</text>
<path d="M188.6,485.6 V482.6 H202.4 V485.6" fill="none" stroke="#777" stroke-width="0.7"/>
<text x="195.5" y="480" font-size="8.6" text-anchor="middle" textLength="12" lengthAdjust="spacingAndGlyphs">NS</text>
<circle cx="145.3" cy="530.92" r="2" fill="#3a4592"/>
<circle cx="143.1" cy="528.84" r="2" fill="#3a4592"/>
<circle cx="147.5" cy="536.47" r="2" fill="#3a4592"/>
<circle cx="144.2" cy="541.32" r="2" fill="#3a4592"/>
<circle cx="146.62" cy="546.87" r="2" fill="#3a4592"/>
<circle cx="143.32" cy="547.57" r="2" fill="#3a4592"/>
<line x1="141.7" y1="538.55" x2="148.9" y2="538.55" stroke="#000" stroke-width="1.05"/>
<circle cx="160.6" cy="500.41" r="2" fill="#b24b72"/>
<circle cx="158.4" cy="516.36" r="2" fill="#b24b72"/>
<circle cx="162.8" cy="518.44" r="2" fill="#b24b72"/>
<circle cx="159.5" cy="523.99" r="2" fill="#b24b72"/>
<circle cx="161.92" cy="530.23" r="2" fill="#b24b72"/>
<circle cx="158.62" cy="534.39" r="2" fill="#b24b72"/>
<circle cx="161.26" cy="537.16" r="2" fill="#b24b72"/>
<line x1="160.6" y1="517.74" x2="160.6" y2="527.45" stroke="#b24b72" stroke-width="0.7"/>
<line x1="159.1" y1="517.74" x2="162.1" y2="517.74" stroke="#b24b72" stroke-width="0.7"/>
<line x1="159.1" y1="527.45" x2="162.1" y2="527.45" stroke="#b24b72" stroke-width="0.7"/>
<line x1="157" y1="522.6" x2="164.2" y2="522.6" stroke="#000" stroke-width="1.05"/>
<circle cx="187.9" cy="517.05" r="2" fill="#3a4592"/>
<circle cx="185.7" cy="526.07" r="2" fill="#3a4592"/>
<circle cx="190.1" cy="536.47" r="2" fill="#3a4592"/>
<circle cx="186.8" cy="537.86" r="2" fill="#3a4592"/>
<circle cx="189.22" cy="540.63" r="2" fill="#3a4592"/>
<circle cx="185.92" cy="543.4" r="2" fill="#3a4592"/>
<circle cx="188.56" cy="546.18" r="2" fill="#3a4592"/>
<circle cx="189.88" cy="547.57" r="2" fill="#3a4592"/>
<circle cx="187.24" cy="550.34" r="2" fill="#3a4592"/>
<circle cx="189" cy="551.73" r="2" fill="#3a4592"/>
<line x1="187.9" y1="537.16" x2="187.9" y2="544.1" stroke="#3a4592" stroke-width="0.7"/>
<line x1="186.4" y1="537.16" x2="189.4" y2="537.16" stroke="#3a4592" stroke-width="0.7"/>
<line x1="186.4" y1="544.1" x2="189.4" y2="544.1" stroke="#3a4592" stroke-width="0.7"/>
<line x1="184.3" y1="540.63" x2="191.5" y2="540.63" stroke="#000" stroke-width="1.05"/>
<circle cx="203.7" cy="499.71" r="2" fill="#b24b72"/>
<circle cx="201.5" cy="515.66" r="2" fill="#b24b72"/>
<circle cx="205.9" cy="515.66" r="2" fill="#b24b72"/>
<circle cx="202.6" cy="535.08" r="2" fill="#b24b72"/>
<circle cx="205.02" cy="537.86" r="2" fill="#b24b72"/>
<circle cx="201.72" cy="540.63" r="2" fill="#b24b72"/>
<circle cx="204.36" cy="544.79" r="2" fill="#b24b72"/>
<circle cx="205.68" cy="547.57" r="2" fill="#b24b72"/>
<circle cx="203.04" cy="548.95" r="2" fill="#b24b72"/>
<circle cx="204.8" cy="550.34" r="2" fill="#b24b72"/>
<circle cx="202.16" cy="551.73" r="2" fill="#b24b72"/>
<line x1="203.7" y1="530.23" x2="203.7" y2="540.63" stroke="#b24b72" stroke-width="0.7"/>
<line x1="202.2" y1="530.23" x2="205.2" y2="530.23" stroke="#b24b72" stroke-width="0.7"/>
<line x1="202.2" y1="540.63" x2="205.2" y2="540.63" stroke="#b24b72" stroke-width="0.7"/>
<line x1="200.1" y1="535.78" x2="207.3" y2="535.78" stroke="#000" stroke-width="1.05"/>
<line x1="248.4" y1="485.2" x2="248.4" y2="555.3" stroke="#7a7a7a" stroke-width="0.8"/>
<line x1="246.2" y1="485.2" x2="248.4" y2="485.2" stroke="#7a7a7a" stroke-width="0.7"/>
<text x="242.8" y="487.9" font-size="7.5" text-anchor="end" fill="#333" textLength="8.4" lengthAdjust="spacingAndGlyphs">80</text>
<line x1="246.2" y1="502.7" x2="248.4" y2="502.7" stroke="#7a7a7a" stroke-width="0.7"/>
<text x="242.8" y="505.4" font-size="7.5" text-anchor="end" fill="#333" textLength="8.4" lengthAdjust="spacingAndGlyphs">60</text>
<line x1="246.2" y1="520.2" x2="248.4" y2="520.2" stroke="#7a7a7a" stroke-width="0.7"/>
<text x="242.8" y="522.9" font-size="7.5" text-anchor="end" fill="#333" textLength="8.4" lengthAdjust="spacingAndGlyphs">40</text>
<line x1="246.2" y1="537.8" x2="248.4" y2="537.8" stroke="#7a7a7a" stroke-width="0.7"/>
<text x="242.8" y="540.5" font-size="7.5" text-anchor="end" fill="#333" textLength="8.4" lengthAdjust="spacingAndGlyphs">20</text>
<line x1="246.2" y1="555.3" x2="248.4" y2="555.3" stroke="#7a7a7a" stroke-width="0.7"/>
<text x="242.8" y="558" font-size="7.5" text-anchor="end" fill="#333">0</text>
<line x1="248.4" y1="555.3" x2="317.8" y2="555.3" stroke="#7a7a7a" stroke-width="0.8"/>
<text x="254.8" y="565.1" font-size="8.6" text-anchor="middle" fill="#333">S</text>
<text x="271" y="565.1" font-size="8.6" text-anchor="middle" fill="#333" textLength="8.3" lengthAdjust="spacingAndGlyphs">LL</text>
<text x="297.3" y="565.1" font-size="8.6" text-anchor="middle" fill="#333">S</text>
<text x="313.5" y="565.1" font-size="8.6" text-anchor="middle" fill="#333" textLength="8.3" lengthAdjust="spacingAndGlyphs">LL</text>
<line x1="249.9" y1="568.2" x2="278.6" y2="568.2" stroke="#555" stroke-width="1.1"/>
<line x1="291.9" y1="568.2" x2="321" y2="568.2" stroke="#555" stroke-width="1.1"/>
<text x="263.6" y="579.6" font-size="8.6" text-anchor="middle" fill="#333" textLength="11" lengthAdjust="spacingAndGlyphs">WT</text>
<text x="305.7" y="579.6" font-size="8.6" text-anchor="middle" fill="#333" textLength="11.6" lengthAdjust="spacingAndGlyphs">KO</text>
<text x="0" y="0" font-size="9" text-anchor="middle" transform="translate(226.1,520) rotate(-90)" textLength="49.7" lengthAdjust="spacingAndGlyphs">fT3 (pg ml<tspan font-size="6.6" dy="-3.2">−1</tspan><tspan dy="3.2">)</tspan></text>
<path d="M256.4,485.6 V482.6 H270.8 V485.6" fill="none" stroke="#777" stroke-width="0.7"/>
<text x="263.6" y="480" font-size="8.6" text-anchor="middle" textLength="12" lengthAdjust="spacingAndGlyphs">NS</text>
<path d="M297.3,485.6 V482.6 H311.3 V485.6" fill="none" stroke="#777" stroke-width="0.7"/>
<text x="304.3" y="480" font-size="8.6" text-anchor="middle" textLength="12" lengthAdjust="spacingAndGlyphs">NS</text>
<line x1="254.8" y1="529.9" x2="254.8" y2="539.53" stroke="#3a4592" stroke-width="0.7"/>
<line x1="253.3" y1="529.9" x2="256.3" y2="529.9" stroke="#3a4592" stroke-width="0.7"/>
<line x1="253.3" y1="539.53" x2="256.3" y2="539.53" stroke="#3a4592" stroke-width="0.7"/>
<line x1="251.2" y1="534.71" x2="258.4" y2="534.71" stroke="#000" stroke-width="1.05"/>
<circle cx="254.8" cy="516.76" r="2" fill="#3a4592"/>
<circle cx="252.6" cy="525.52" r="2" fill="#3a4592"/>
<circle cx="257" cy="537.78" r="2" fill="#3a4592"/>
<circle cx="253.7" cy="540.41" r="2" fill="#3a4592"/>
<circle cx="256.12" cy="544.79" r="2" fill="#3a4592"/>
<circle cx="252.82" cy="546.54" r="2" fill="#3a4592"/>
<line x1="271" y1="517.63" x2="271" y2="531.65" stroke="#b24b72" stroke-width="0.7"/>
<line x1="269.5" y1="517.63" x2="272.5" y2="517.63" stroke="#b24b72" stroke-width="0.7"/>
<line x1="269.5" y1="531.65" x2="272.5" y2="531.65" stroke="#b24b72" stroke-width="0.7"/>
<line x1="267.4" y1="524.64" x2="274.6" y2="524.64" stroke="#000" stroke-width="1.05"/>
<circle cx="271" cy="496.61" r="2" fill="#b24b72"/>
<circle cx="268.8" cy="498.36" r="2" fill="#b24b72"/>
<circle cx="273.2" cy="506.24" r="2" fill="#b24b72"/>
<circle cx="269.9" cy="534.28" r="2" fill="#b24b72"/>
<circle cx="272.32" cy="534.28" r="2" fill="#b24b72"/>
<circle cx="269.02" cy="543.04" r="2" fill="#b24b72"/>
<circle cx="271.66" cy="546.54" r="2" fill="#b24b72"/>
<line x1="293.7" y1="534.28" x2="300.9" y2="534.28" stroke="#000" stroke-width="1.05"/>
<circle cx="297.3" cy="523.76" r="2" fill="#3a4592"/>
<circle cx="295.1" cy="530.77" r="2" fill="#3a4592"/>
<circle cx="299.5" cy="531.65" r="2" fill="#3a4592"/>
<circle cx="296.2" cy="533.4" r="2" fill="#3a4592"/>
<circle cx="298.62" cy="534.28" r="2" fill="#3a4592"/>
<circle cx="295.32" cy="536.03" r="2" fill="#3a4592"/>
<circle cx="297.96" cy="537.78" r="2" fill="#3a4592"/>
<circle cx="299.28" cy="539.53" r="2" fill="#3a4592"/>
<circle cx="296.64" cy="541.28" r="2" fill="#3a4592"/>
<circle cx="298.4" cy="544.79" r="2" fill="#3a4592"/>
<line x1="309.9" y1="535.15" x2="317.1" y2="535.15" stroke="#000" stroke-width="1.05"/>
<circle cx="313.5" cy="523.76" r="2" fill="#b24b72"/>
<circle cx="311.3" cy="525.52" r="2" fill="#b24b72"/>
<circle cx="315.7" cy="528.14" r="2" fill="#b24b72"/>
<circle cx="312.4" cy="530.77" r="2" fill="#b24b72"/>
<circle cx="314.82" cy="533.4" r="2" fill="#b24b72"/>
<circle cx="311.52" cy="536.03" r="2" fill="#b24b72"/>
<circle cx="314.16" cy="538.66" r="2" fill="#b24b72"/>
<circle cx="315.48" cy="541.28" r="2" fill="#b24b72"/>
<circle cx="312.84" cy="543.91" r="2" fill="#b24b72"/>
<circle cx="314.6" cy="545.66" r="2" fill="#b24b72"/>
<line x1="294" y1="534.28" x2="301" y2="534.28" stroke="#111" stroke-width="0.9"/>
<line x1="310" y1="535.15" x2="317" y2="535.15" stroke="#111" stroke-width="0.9"/>
<text x="373.2" y="494.9" font-size="8.6" textLength="12" lengthAdjust="spacingAndGlyphs">WT</text>
<text x="424.6" y="494.9" font-size="8.6" textLength="11.6" lengthAdjust="spacingAndGlyphs">KO</text>
<line x1="364.9" y1="498.9" x2="394.6" y2="498.9" stroke="#222" stroke-width="1.1"/>
<line x1="415.2" y1="498.9" x2="445.4" y2="498.9" stroke="#222" stroke-width="1.1"/>
<text x="371.2" y="513" font-size="8.6" text-anchor="middle">S</text>
<text x="388" y="513" font-size="8.6" text-anchor="middle" textLength="8" lengthAdjust="spacingAndGlyphs">LL</text>
<text x="421.1" y="513" font-size="8.6" text-anchor="middle">S</text>
<text x="437.8" y="513" font-size="8.6" text-anchor="middle" textLength="8" lengthAdjust="spacingAndGlyphs">LL</text>
<text x="458" y="517.4" font-size="8.6" textLength="14.8" lengthAdjust="spacingAndGlyphs">kDa</text>
<rect x="360.1" y="518.2" width="89.1" height="18.6" fill="#ebebeb"/>
<rect x="360.1" y="543.9" width="89.1" height="18.9" fill="#ebebeb"/>
<ellipse cx="389" cy="527.5" rx="8.5" ry="9" fill="#dcdcdc" filter="url(#soft2)"/>
<ellipse cx="389.5" cy="547" rx="4" ry="2.5" fill="#dedede" filter="url(#soft2)"/>
<text x="337" y="532.7" font-size="9.2" textLength="20.4" lengthAdjust="spacingAndGlyphs">UCP1</text>
<text x="328.3" y="557.9" font-size="9.2" textLength="29.1" lengthAdjust="spacingAndGlyphs">β-Actin</text>
<line x1="449.8" y1="533.5" x2="453.1" y2="533.5" stroke="#111" stroke-width="0.8"/>
<line x1="449.8" y1="560.5" x2="453.1" y2="560.5" stroke="#111" stroke-width="0.8"/>
<text x="458.4" y="536.2" font-size="8.6" textLength="9.8" lengthAdjust="spacingAndGlyphs">25</text>
<text x="458.4" y="562.5" font-size="8.6" textLength="9.8" lengthAdjust="spacingAndGlyphs">37</text>
<rect x="364.9" y="525.6" width="13.5" height="4.2" rx="2.1" fill="#050505" filter="url(#soft)"/>
<rect x="382.4" y="524" width="12.7" height="7.6" rx="3" fill="#050505" filter="url(#soft)"/>
<rect x="415.6" y="525.5" width="12.4" height="4.9" rx="2.45" fill="#050505" filter="url(#soft)"/>
<rect x="432.4" y="525.5" width="11.6" height="4.9" rx="2.45" fill="#050505" filter="url(#soft)"/>
<rect x="365.2" y="552.6" width="13.9" height="3.5" rx="1.75" fill="#050505" filter="url(#soft)"/>
<rect x="382.7" y="552.5" width="12.4" height="4" rx="2" fill="#050505" filter="url(#soft)"/>
<rect x="416.3" y="552.6" width="11.7" height="3.6" rx="1.8" fill="#050505" filter="url(#soft)"/>
<rect x="433.1" y="552.8" width="11.7" height="3.1" rx="1.55" fill="#050505" filter="url(#soft)"/>
<line x1="504.9" y1="485.8" x2="504.9" y2="555.2" stroke="#7a7a7a" stroke-width="0.8"/>
<line x1="502.7" y1="485.8" x2="504.9" y2="485.8" stroke="#7a7a7a" stroke-width="0.7"/>
<text x="499.3" y="488.5" font-size="7.5" text-anchor="end" fill="#333">3</text>
<line x1="502.7" y1="508.9" x2="504.9" y2="508.9" stroke="#7a7a7a" stroke-width="0.7"/>
<text x="499.3" y="511.6" font-size="7.5" text-anchor="end" fill="#333">2</text>
<line x1="502.7" y1="531.9" x2="504.9" y2="531.9" stroke="#7a7a7a" stroke-width="0.7"/>
<text x="499.3" y="534.6" font-size="7.5" text-anchor="end" fill="#333">1</text>
<line x1="502.7" y1="555.2" x2="504.9" y2="555.2" stroke="#7a7a7a" stroke-width="0.7"/>
<text x="499.3" y="557.9" font-size="7.5" text-anchor="end" fill="#333">0</text>
<line x1="504.9" y1="555.2" x2="576" y2="555.2" stroke="#7a7a7a" stroke-width="0.8"/>
<text x="512" y="565.1" font-size="8.6" text-anchor="middle" fill="#333">S</text>
<text x="526.4" y="565.1" font-size="8.6" text-anchor="middle" fill="#333" textLength="8.3" lengthAdjust="spacingAndGlyphs">LL</text>
<text x="553.8" y="565.1" font-size="8.6" text-anchor="middle" fill="#333">S</text>
<text x="569.5" y="565.1" font-size="8.6" text-anchor="middle" fill="#333" textLength="8.3" lengthAdjust="spacingAndGlyphs">LL</text>
<line x1="508.1" y1="568.2" x2="535" y2="568.2" stroke="#555" stroke-width="1.1"/>
<line x1="549.7" y1="568.2" x2="577.7" y2="568.2" stroke="#555" stroke-width="1.1"/>
<text x="520.7" y="579.6" font-size="8.6" text-anchor="middle" fill="#333" textLength="11" lengthAdjust="spacingAndGlyphs">WT</text>
<text x="562.5" y="579.6" font-size="8.6" text-anchor="middle" fill="#333" textLength="11.6" lengthAdjust="spacingAndGlyphs">KO</text>
<text x="0" y="0" font-size="9.2" text-anchor="middle" transform="translate(488.9,519.1) rotate(-90)" textLength="76" lengthAdjust="spacingAndGlyphs">Relative UCP1 level</text>
<path d="M512.4,486 V483 H526.8 V486" fill="none" stroke="#777" stroke-width="0.7"/>
<text x="519.6" y="485.3" font-size="11.5" text-anchor="middle">*</text>
<path d="M554.4,486 V483 H569 V486" fill="none" stroke="#777" stroke-width="0.7"/>
<text x="561.7" y="480.4" font-size="8.6" text-anchor="middle" textLength="12" lengthAdjust="spacingAndGlyphs">NS</text>
<line x1="512.4" y1="527.2" x2="512.4" y2="537.9" stroke="#3a4592" stroke-width="0.7"/>
<line x1="510.9" y1="527.2" x2="513.9" y2="527.2" stroke="#3a4592" stroke-width="0.7"/>
<line x1="510.9" y1="537.9" x2="513.9" y2="537.9" stroke="#3a4592" stroke-width="0.7"/>
<line x1="508.8" y1="533" x2="516" y2="533" stroke="#000" stroke-width="1.05"/>
<circle cx="512.4" cy="525.7" r="2" fill="#3a4592"/>
<circle cx="512.4" cy="528.7" r="2" fill="#3a4592"/>
<circle cx="512.8" cy="532.6" r="2" fill="#3a4592"/>
<circle cx="512" cy="543.3" r="2" fill="#3a4592"/>
<line x1="526.4" y1="505.6" x2="526.4" y2="516.4" stroke="#b24b72" stroke-width="0.7"/>
<line x1="524.9" y1="505.6" x2="527.9" y2="505.6" stroke="#b24b72" stroke-width="0.7"/>
<line x1="524.9" y1="516.4" x2="527.9" y2="516.4" stroke="#b24b72" stroke-width="0.7"/>
<line x1="522.8" y1="511" x2="530" y2="511" stroke="#000" stroke-width="1.05"/>
<circle cx="526.4" cy="496.4" r="2" fill="#b24b72"/>
<circle cx="524.2" cy="511" r="2" fill="#b24b72"/>
<circle cx="527.9" cy="512.1" r="2" fill="#b24b72"/>
<circle cx="526.4" cy="524.4" r="2" fill="#b24b72"/>
<line x1="554" y1="524.4" x2="554" y2="536.4" stroke="#3a4592" stroke-width="0.7"/>
<line x1="552.5" y1="524.4" x2="555.5" y2="524.4" stroke="#3a4592" stroke-width="0.7"/>
<line x1="552.5" y1="536.4" x2="555.5" y2="536.4" stroke="#3a4592" stroke-width="0.7"/>
<line x1="550.4" y1="530.4" x2="557.6" y2="530.4" stroke="#000" stroke-width="1.05"/>
<circle cx="554" cy="518.5" r="2" fill="#3a4592"/>
<circle cx="552.2" cy="537.3" r="2" fill="#3a4592"/>
<circle cx="556.6" cy="535.1" r="2" fill="#3a4592"/>
<line x1="568.4" y1="529.3" x2="568.4" y2="537.9" stroke="#b24b72" stroke-width="0.7"/>
<line x1="566.9" y1="529.3" x2="569.9" y2="529.3" stroke="#b24b72" stroke-width="0.7"/>
<line x1="566.9" y1="537.9" x2="569.9" y2="537.9" stroke="#b24b72" stroke-width="0.7"/>
<line x1="564.8" y1="533.6" x2="572" y2="533.6" stroke="#000" stroke-width="1.05"/>
<circle cx="568.4" cy="525" r="2" fill="#b24b72"/>
<circle cx="566.2" cy="539" r="2" fill="#b24b72"/>
<circle cx="570.1" cy="535.8" r="2" fill="#b24b72"/>
<line x1="610.6" y1="485.6" x2="610.6" y2="555.3" stroke="#7a7a7a" stroke-width="0.8"/>
<line x1="608.4" y1="485.6" x2="610.6" y2="485.6" stroke="#7a7a7a" stroke-width="0.7"/>
<text x="605" y="488.3" font-size="7.5" text-anchor="end" fill="#333" textLength="8.4" lengthAdjust="spacingAndGlyphs">80</text>
<line x1="608.4" y1="503" x2="610.6" y2="503" stroke="#7a7a7a" stroke-width="0.7"/>
<text x="605" y="505.7" font-size="7.5" text-anchor="end" fill="#333" textLength="8.4" lengthAdjust="spacingAndGlyphs">60</text>
<line x1="608.4" y1="520.4" x2="610.6" y2="520.4" stroke="#7a7a7a" stroke-width="0.7"/>
<text x="605" y="523.1" font-size="7.5" text-anchor="end" fill="#333" textLength="8.4" lengthAdjust="spacingAndGlyphs">40</text>
<line x1="608.4" y1="537.8" x2="610.6" y2="537.8" stroke="#7a7a7a" stroke-width="0.7"/>
<text x="605" y="540.5" font-size="7.5" text-anchor="end" fill="#333" textLength="8.4" lengthAdjust="spacingAndGlyphs">20</text>
<line x1="608.4" y1="555.3" x2="610.6" y2="555.3" stroke="#7a7a7a" stroke-width="0.7"/>
<text x="605" y="558" font-size="7.5" text-anchor="end" fill="#333">0</text>
<line x1="610.6" y1="555.3" x2="682.9" y2="555.3" stroke="#7a7a7a" stroke-width="0.8"/>
<text x="619.2" y="565.1" font-size="8.6" text-anchor="middle" fill="#333">S</text>
<text x="633.2" y="565.1" font-size="8.6" text-anchor="middle" fill="#333" textLength="8.3" lengthAdjust="spacingAndGlyphs">LL</text>
<text x="661.3" y="565.1" font-size="8.6" text-anchor="middle" fill="#333">S</text>
<text x="676.4" y="565.1" font-size="8.6" text-anchor="middle" fill="#333" textLength="8.3" lengthAdjust="spacingAndGlyphs">LL</text>
<line x1="614.9" y1="568.2" x2="641.9" y2="568.2" stroke="#555" stroke-width="1.1"/>
<line x1="658" y1="568.2" x2="685" y2="568.2" stroke="#555" stroke-width="1.1"/>
<text x="627.6" y="579.6" font-size="8.6" text-anchor="middle" fill="#333" textLength="11" lengthAdjust="spacingAndGlyphs">WT</text>
<text x="669.9" y="579.6" font-size="8.6" text-anchor="middle" fill="#333" textLength="11.6" lengthAdjust="spacingAndGlyphs">KO</text>
<text x="0" y="0" font-size="9" text-anchor="middle" transform="translate(588.8,519.2) rotate(-90)" textLength="46.4" lengthAdjust="spacingAndGlyphs">NE (ng ml<tspan font-size="6.6" dy="-3.2">−1</tspan><tspan dy="3.2">)</tspan></text>
<path d="M619.2,486 V483 H633.7 V486" fill="none" stroke="#777" stroke-width="0.7"/>
<text x="610.6" y="481.8" font-size="8.6" fill="#231f20" textLength="32.4" lengthAdjust="spacingAndGlyphs"><tspan font-style="italic">P</tspan> = 0.08</text>
<path d="M661.3,486 V483 H675.7 V486" fill="none" stroke="#777" stroke-width="0.7"/>
<text x="668.5" y="480.4" font-size="8.6" text-anchor="middle" textLength="12" lengthAdjust="spacingAndGlyphs">NS</text>
<line x1="619.2" y1="539.62" x2="619.2" y2="547.46" stroke="#3a4592" stroke-width="0.7"/>
<line x1="617.7" y1="539.62" x2="620.7" y2="539.62" stroke="#3a4592" stroke-width="0.7"/>
<line x1="617.7" y1="547.46" x2="620.7" y2="547.46" stroke="#3a4592" stroke-width="0.7"/>
<line x1="615.6" y1="543.54" x2="622.8" y2="543.54" stroke="#000" stroke-width="1.05"/>
<circle cx="619.2" cy="528.3" r="2" fill="#3a4592"/>
<circle cx="617" cy="530.91" r="2" fill="#3a4592"/>
<circle cx="621.4" cy="532.65" r="2" fill="#3a4592"/>
<circle cx="618.1" cy="541.36" r="2" fill="#3a4592"/>
<circle cx="620.52" cy="543.11" r="2" fill="#3a4592"/>
<circle cx="617.22" cy="546.59" r="2" fill="#3a4592"/>
<circle cx="619.86" cy="549.2" r="2" fill="#3a4592"/>
<circle cx="621.18" cy="550.94" r="2" fill="#3a4592"/>
<circle cx="618.54" cy="552.69" r="2" fill="#3a4592"/>
<circle cx="620.3" cy="554.43" r="2" fill="#3a4592"/>
<line x1="633.2" y1="527.43" x2="633.2" y2="537.01" stroke="#b24b72" stroke-width="0.7"/>
<line x1="631.7" y1="527.43" x2="634.7" y2="527.43" stroke="#b24b72" stroke-width="0.7"/>
<line x1="631.7" y1="537.01" x2="634.7" y2="537.01" stroke="#b24b72" stroke-width="0.7"/>
<line x1="629.6" y1="531.78" x2="636.8" y2="531.78" stroke="#000" stroke-width="1.05"/>
<circle cx="633.2" cy="510.88" r="2" fill="#b24b72"/>
<circle cx="631" cy="511.75" r="2" fill="#b24b72"/>
<circle cx="635.4" cy="511.75" r="2" fill="#b24b72"/>
<circle cx="632.1" cy="520.46" r="2" fill="#b24b72"/>
<circle cx="634.52" cy="525.69" r="2" fill="#b24b72"/>
<circle cx="631.22" cy="527.43" r="2" fill="#b24b72"/>
<circle cx="633.86" cy="536.14" r="2" fill="#b24b72"/>
<circle cx="635.18" cy="545.72" r="2" fill="#b24b72"/>
<circle cx="632.54" cy="547.46" r="2" fill="#b24b72"/>
<circle cx="634.3" cy="550.94" r="2" fill="#b24b72"/>
<line x1="661.3" y1="536.57" x2="661.3" y2="550.07" stroke="#3a4592" stroke-width="0.7"/>
<line x1="659.8" y1="536.57" x2="662.8" y2="536.57" stroke="#3a4592" stroke-width="0.7"/>
<line x1="659.8" y1="550.07" x2="662.8" y2="550.07" stroke="#3a4592" stroke-width="0.7"/>
<line x1="657.7" y1="543.54" x2="664.9" y2="543.54" stroke="#000" stroke-width="1.05"/>
<circle cx="661.3" cy="503.91" r="2" fill="#3a4592"/>
<circle cx="659.1" cy="540.49" r="2" fill="#3a4592"/>
<circle cx="663.5" cy="542.23" r="2" fill="#3a4592"/>
<circle cx="660.2" cy="547.46" r="2" fill="#3a4592"/>
<circle cx="662.62" cy="549.2" r="2" fill="#3a4592"/>
<circle cx="659.32" cy="551.82" r="2" fill="#3a4592"/>
<circle cx="661.96" cy="553.56" r="2" fill="#3a4592"/>
<circle cx="663.28" cy="554.43" r="2" fill="#3a4592"/>
<line x1="676.4" y1="538.75" x2="676.4" y2="546.59" stroke="#b24b72" stroke-width="0.7"/>
<line x1="674.9" y1="538.75" x2="677.9" y2="538.75" stroke="#b24b72" stroke-width="0.7"/>
<line x1="674.9" y1="546.59" x2="677.9" y2="546.59" stroke="#b24b72" stroke-width="0.7"/>
<line x1="672.8" y1="542.67" x2="680" y2="542.67" stroke="#000" stroke-width="1.05"/>
<circle cx="676.4" cy="532.65" r="2" fill="#b24b72"/>
<circle cx="674.2" cy="533.52" r="2" fill="#b24b72"/>
<circle cx="678.6" cy="538.75" r="2" fill="#b24b72"/>
<circle cx="675.3" cy="546.59" r="2" fill="#b24b72"/>
<circle cx="677.72" cy="551.82" r="2" fill="#b24b72"/>
<circle cx="674.42" cy="552.69" r="2" fill="#b24b72"/>
<line x1="657.5" y1="543.54" x2="665" y2="543.54" stroke="#111" stroke-width="0.9"/>
<line x1="672.5" y1="542.67" x2="680" y2="542.67" stroke="#111" stroke-width="0.9"/>
<text x="-0.3" y="8.8" font-size="12.6" fill="#000" font-weight="bold">a</text>
<text x="341.3" y="8.6" font-size="12.6" fill="#000" font-weight="bold">d</text>
<text x="0" y="119.5" font-size="12.6" fill="#000" font-weight="bold">b</text>
<text x="341.4" y="119.5" font-size="12.6" fill="#000" font-weight="bold">e</text>
<text x="0" y="246.8" font-size="12.6" fill="#000" font-weight="bold">c</text>
<text x="341.8" y="246.9" font-size="12.6" fill="#000" font-weight="bold">f</text>
<text x="-0.4" y="387.1" font-size="12.6" fill="#000" font-weight="bold">g</text>
<text x="334.5" y="387.7" font-size="12.6" fill="#000" font-weight="bold">i</text>
<text x="0" y="474.7" font-size="12.6" fill="#000" font-weight="bold">h</text>
<text x="329.2" y="474.5" font-size="12.6" fill="#000" font-weight="bold">j</text>
<text x="582.4" y="474.8" font-size="12.6" fill="#000" font-weight="bold">k</text>
</g>
</svg>
</body></html>
